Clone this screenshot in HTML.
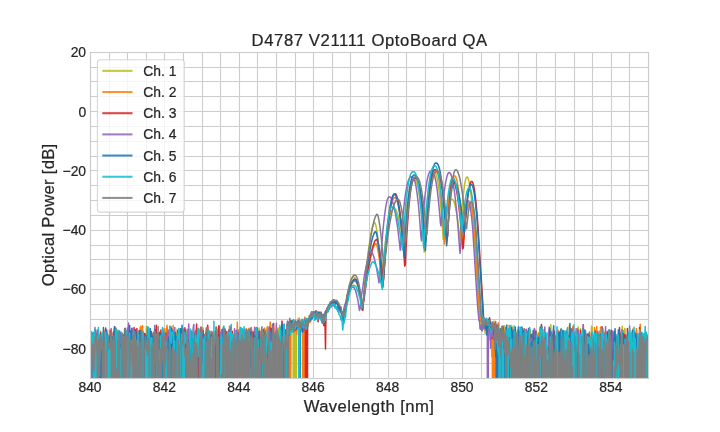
<!DOCTYPE html><html><head><meta charset="utf-8"><title>D4787 V21111 OptoBoard QA</title>
<style>html,body{margin:0;padding:0;background:#fff}svg{display:block}text{font-family:"Liberation Sans",Arial,sans-serif;fill:#262626;stroke:#262626;stroke-width:0.22px}</style></head><body>
<svg width="720" height="432" viewBox="0 0 720 432">
<rect width="720" height="432" fill="#fff"/>
<defs><clipPath id="ax"><rect x="90.0" y="51.84" width="558.0" height="326.15999999999997"/></clipPath></defs>
<path d="M90.5,52V379M109.5,52V379M127.5,52V379M146.5,52V379M164.5,52V379M183.5,52V379M202.5,52V379M220.5,52V379M239.5,52V379M257.5,52V379M276.5,52V379M295.5,52V379M313.5,52V379M332.5,52V379M350.5,52V379M369.5,52V379M388.5,52V379M406.5,52V379M425.5,52V379M443.5,52V379M462.5,52V379M481.5,52V379M499.5,52V379M518.5,52V379M536.5,52V379M555.5,52V379M574.5,52V379M592.5,52V379M611.5,52V379M629.5,52V379M648.5,52V379M90,378.5H649M90,363.5H649M90,348.5H649M90,334.5H649M90,319.5H649M90,304.5H649M90,289.5H649M90,274.5H649M90,259.5H649M90,245.5H649M90,230.5H649M90,215.5H649M90,200.5H649M90,185.5H649M90,170.5H649M90,156.5H649M90,141.5H649M90,126.5H649M90,111.5H649M90,96.5H649M90,81.5H649M90,67.5H649M90,52.5H649" stroke="#cccccc" stroke-width="1.1" fill="none"/>
<g clip-path="url(#ax)" fill="none" stroke-width="1.5" stroke-linejoin="round" stroke-linecap="butt">
<path d="M88.9,352.1 89.4,345 90.0,367 90.6,733.8 91.1,733.8 91.7,733.8 92.2,350.3 92.8,333.2 93.3,733.8 93.9,733.8 94.5,341.8 95.0,343.8 95.6,349 96.1,733.8 96.7,353 97.3,339 97.8,733.8 98.4,733.8 98.9,733.8 99.5,733.8 100.0,733.8 100.6,363.3 101.2,733.8 101.7,345.2 102.3,347.6 102.8,360 103.4,733.8 103.9,733.8 104.5,353.5 105.1,348.6 105.6,733.8 106.2,733.8 106.7,733.8 107.3,733.8 107.9,335.1 108.4,733.8 109.0,352.8 109.5,336.7 110.1,733.8 110.6,355.9 111.2,348.6 111.8,349.8 112.3,733.8 112.9,349.4 113.4,332.6 114.0,733.8 114.6,336.9 115.1,348.3 115.7,733.8 116.2,328.5 116.8,337.8 117.3,733.8 117.9,349.4 118.5,340.1 119.0,359.8 119.6,338.7 120.1,353.9 120.7,338.9 121.2,331.8 121.8,733.8 122.4,346.2 122.9,733.8 123.5,347.9 124.0,733.8 124.6,733.8 125.2,360.1 125.7,336.2 126.3,334 126.8,733.8 127.4,733.8 127.9,339 128.5,733.8 129.1,733.8 129.6,354.9 130.2,333 130.7,338.4 131.3,373.2 131.8,384 132.4,363.9 133.0,331 133.5,733.8 134.1,369.6 134.6,343.1 135.2,355.8 135.8,359.9 136.3,733.8 136.9,351.5 137.4,733.8 138.0,333.6 138.5,338.7 139.1,351.9 139.7,338.5 140.2,375.5 140.8,334.5 141.3,351.2 141.9,339.5 142.5,733.8 143.0,343 143.6,733.8 144.1,733.8 144.7,369.4 145.2,733.8 145.8,346.6 146.4,326.6 146.9,733.8 147.5,733.8 148.0,345.6 148.6,340.6 149.1,358.4 149.7,360.2 150.3,337.8 150.8,340.1 151.4,733.8 151.9,353.7 152.5,349.7 153.1,733.8 153.6,344.4 154.2,733.8 154.7,334.9 155.3,345.7 155.8,348.2 156.4,733.8 157.0,355.3 157.5,733.8 158.1,733.8 158.6,342.4 159.2,733.8 159.7,336 160.3,733.8 160.9,337 161.4,733.8 162.0,336.7 162.5,347 163.1,733.8 163.7,332.4 164.2,330.9 164.8,352.9 165.3,365.4 165.9,357.1 166.4,733.8 167.0,333.5 167.6,733.8 168.1,352.3 168.7,733.8 169.2,733.8 169.8,733.8 170.4,332.2 170.9,356.7 171.5,334.6 172.0,350 172.6,733.8 173.1,372.2 173.7,733.8 174.3,350.1 174.8,386.2 175.4,368.2 175.9,733.8 176.5,733.8 177.0,329.3 177.6,733.8 178.2,733.8 178.7,342.4 179.3,330.9 179.8,733.8 180.4,359.7 181.0,733.8 181.5,733.8 182.1,336.8 182.6,351 183.2,348.1 183.7,733.8 184.3,340.4 184.9,733.8 185.4,355.8 186.0,733.8 186.5,733.8 187.1,331.2 187.6,733.8 188.2,343 188.8,351.2 189.3,733.8 189.9,733.8 190.4,337.9 191.0,368.1 191.6,356.1 192.1,349.3 192.7,332.3 193.2,337.2 193.8,341.3 194.3,733.8 194.9,733.8 195.5,334.3 196.0,334.1 196.6,355.5 197.1,338.9 197.7,335.9 198.3,335.4 198.8,334.5 199.4,733.8 199.9,329.7 200.5,733.8 201.0,335 201.6,339.5 202.2,334.9 202.7,327.4 203.3,329.8 203.8,733.8 204.4,733.8 204.9,335.4 205.5,733.8 206.1,350.1 206.6,335.1 207.2,733.8 207.7,733.8 208.3,343.2 208.9,348.3 209.4,361.9 210.0,348.5 210.5,733.8 211.1,733.8 211.6,356.5 212.2,733.8 212.8,733.8 213.3,339 213.9,351.7 214.4,340.5 215.0,733.8 215.5,733.8 216.1,733.8 216.7,733.8 217.2,344.4 217.8,733.8 218.3,341.3 218.9,341.5 219.5,326.2 220.0,733.8 220.6,334.4 221.1,352.7 221.7,349.9 222.2,733.8 222.8,733.8 223.4,335.8 223.9,352.3 224.5,347 225.0,366 225.6,331.8 226.2,350 226.7,733.8 227.3,733.8 227.8,733.8 228.4,733.8 228.9,733.8 229.5,330.3 230.1,347.8 230.6,733.8 231.2,733.8 231.7,331.9 232.3,344.9 232.8,347.7 233.4,351 234.0,348 234.5,334.9 235.1,337.9 235.6,343.5 236.2,733.8 236.8,338.5 237.3,733.8 237.9,332.1 238.4,733.8 239.0,354.5 239.5,349.3 240.1,733.8 240.7,327.5 241.2,329.2 241.8,733.8 242.3,335.1 242.9,340.4 243.4,733.8 244.0,342.7 244.6,351.1 245.1,346.5 245.7,733.8 246.2,363.3 246.8,356.5 247.4,331.1 247.9,341 248.5,349 249.0,328.6 249.6,733.8 250.1,395.5 250.7,733.8 251.3,328.3 251.8,333 252.4,333.4 252.9,336.1 253.5,345.6 254.1,343.2 254.6,361.5 255.2,357.9 255.7,347 256.3,328.5 256.8,337.4 257.4,350.7 258.0,733.8 258.5,733.8 259.1,327.9 259.6,338.1 260.2,346.6 260.7,374.4 261.3,733.8 261.9,350.9 262.4,333.6 263.0,399.7 263.5,359.3 264.1,358.9 264.7,345.4 265.2,733.8 265.8,359.9 266.3,733.8 266.9,333.4 267.4,733.8 268.0,336.9 268.6,328.2 269.1,368.1 269.7,733.8 270.2,343.3 270.8,348.4 271.3,733.8 271.9,338.5 272.5,325.2 273.0,361.6 273.6,357.4 274.1,733.8 274.7,340.7 275.3,733.8 275.8,733.8 276.4,329.8 276.9,733.8 277.5,331.3 278.0,327.9 278.6,341.6 279.2,336.9 279.7,325.3 280.3,355.7 280.8,733.8 281.4,733.8 282.0,345.7 282.5,327.8 283.1,331.7 283.6,733.8 284.2,733.8 284.7,375.1 285.3,337.8 285.9,346.5 286.4,337 287.0,334.7 287.5,341.7 288.1,335.3 288.6,330.8 289.2,330.9 289.8,326.7 290.3,320.5 290.9,323.1 291.4,324.7 292.0,332 292.6,323.6 293.1,333.5 293.7,733.8 294.2,322.2 294.8,733.8 295.3,325.1 295.9,733.8 296.5,325.8 297.0,326.9 297.6,322.6 298.1,318.7 298.7,323.7 299.2,327.1 299.8,328.7 300.4,324.5 300.9,324.8 301.5,328.4 302.0,323.7 302.6,328 303.2,320.7 303.7,320.7 304.3,320.5 304.8,324.7 305.4,321.7 305.9,323.3 306.5,323.9 307.1,323.6 307.6,326.6 308.2,326.3 308.7,318.7 309.3,319.3 309.9,316.9 310.4,314 311.0,319.8 311.5,316.9 312.1,314.6 312.6,313.9 313.2,315.4 313.8,312.8 314.3,314.3 314.9,317.5 315.4,316.8 316.0,313.4 316.5,314 317.1,319.5 317.7,312.5 318.2,313.9 318.8,312.6 319.3,315.9 319.9,315.8 320.5,318.5 321.0,311.8 321.6,317.8 322.1,314.6 322.7,320.8 323.2,319.2 323.8,325.6 324.4,319.5 324.9,314.4 325.5,317.3 326.0,311.1 326.6,310.7 327.1,311.1 327.7,308.9 328.3,307.4 328.8,305.8 329.4,305.2 329.9,304.5 330.5,303.2 331.1,303.1 331.6,302.7 332.2,301.3 332.7,300.4 333.3,301.9 333.8,300.7 334.4,301.2 335.0,301.7 335.5,300.7 336.1,302.1 336.6,301.2 337.2,303.5 337.8,303.4 338.3,304.8 338.9,306.3 339.4,306.1 340.0,308.1 340.5,308.5 341.1,310.8 341.7,314.2 342.2,314.2 342.8,315.6 343.3,315.4 343.9,319.7 344.4,313 345.0,311.1 345.6,304.2 346.1,301.9 346.7,298.6 347.2,294.4 347.8,291.1 348.4,289.2 348.9,286.6 349.5,284.3 350.0,282.5 350.6,280.7 351.1,279.5 351.7,278.5 352.3,277.6 352.8,277.2 353.4,276.9 353.9,277.1 354.5,277.5 355.0,278.2 355.6,278.7 356.2,280.1 356.7,281.5 357.3,283.3 357.8,285.2 358.4,287.5 359.0,289.5 359.5,293.2 360.1,296.6 360.6,299.8 361.2,303.9 361.7,305.9 362.3,309.5 362.9,306.9 363.4,300.3 364.0,293.2 364.5,286.6 365.1,281.4 365.7,275.2 366.2,269.9 366.8,264.5 367.3,259.6 367.9,254.9 368.4,250.4 369.0,246.3 369.6,242.3 370.1,238.7 370.7,235.4 371.2,232.4 371.8,229.8 372.3,227.5 372.9,225.5 373.5,224 374.0,222.9 374.6,222.4 375.1,223.2 375.7,224.9 376.3,227.5 376.8,230.7 377.4,234.6 377.9,239.1 378.5,244.1 379.0,249.7 379.6,255.7 380.2,262.3 380.7,269.4 381.3,276.8 381.8,276.2 382.4,270.1 382.9,264.3 383.5,258.8 384.1,253.6 384.6,248.6 385.2,244 385.7,239.6 386.3,235.5 386.9,231.7 387.4,228.2 388.0,225 388.5,222 389.1,219.4 389.6,217 390.2,214.9 390.8,213.1 391.3,211.6 391.9,210.4 392.4,209.4 393.0,208.8 393.6,208.4 394.1,208.3 394.7,208.5 395.2,209 395.8,209.7 396.3,210.7 396.9,212 397.5,213.6 398.0,215.4 398.6,217.5 399.1,219.9 399.7,222.5 400.2,225.5 400.8,228.7 401.4,232.2 401.9,235.9 402.5,239.9 403.0,244.2 403.6,246.5 404.2,238.3 404.7,230.7 405.3,223.7 405.8,217.3 406.4,211.4 406.9,206.2 407.5,201.5 408.1,197.3 408.6,193.7 409.2,190.5 409.7,187.8 410.3,185.6 410.8,183.8 411.4,182.4 412.0,181.3 412.5,180.6 413.1,180.2 413.6,180 414.2,180 414.8,180.1 415.3,180.5 415.9,181.2 416.4,182.3 417.0,183.8 417.5,185.8 418.1,188.2 418.7,191.1 419.2,194.6 419.8,198.7 420.3,203.3 420.9,208.5 421.5,214.4 422.0,220.9 422.6,228 423.1,235.9 423.7,244.5 424.2,252.1 424.8,241.1 425.4,230.9 425.9,221.6 426.5,213.2 427.0,205.7 427.6,198.9 428.1,193 428.7,187.9 429.3,183.5 429.8,179.8 430.4,176.8 430.9,174.5 431.5,172.8 432.1,171.6 432.6,171 433.2,170.8 433.7,170.8 434.3,171.1 434.8,171.8 435.4,172.7 436.0,174.1 436.5,176 437.1,178.3 437.6,181 438.2,184.3 438.7,188.1 439.3,192.5 439.9,197.4 440.4,202.9 441.0,209 441.5,215.6 442.1,222.9 442.7,230.9 443.2,239.4 443.8,236.4 444.3,231.5 444.9,227 445.4,222.8 446.0,219 446.6,215.5 447.1,212.3 447.7,209.5 448.2,207 448.8,204.8 449.4,203.1 449.9,201.6 450.5,200.5 451.0,199.7 451.6,199.3 452.1,199.2 452.7,199.5 453.3,200.3 453.8,201.4 454.4,202.9 454.9,204.9 455.5,207.3 456.0,210.1 456.6,213.3 457.2,216.9 457.7,220.9 458.3,225.4 458.8,230.2 459.4,235.5 460.0,241.2 460.5,232.6 461.1,223.4 461.6,215.1 462.2,207.6 462.7,200.9 463.3,195.1 463.9,190 464.4,185.8 465.0,182.4 465.5,179.8 466.1,178.1 466.6,177.2 467.2,177 467.8,177.7 468.3,179 468.9,180.9 469.4,183.6 470.0,187 470.6,191.1 471.1,195.8 471.7,201.3 472.2,207.4 472.8,214.3 473.3,221.8 473.9,230.1 474.5,239 475.0,247.9 475.6,256.9 476.1,265.8 476.7,274.4 477.3,283.4 477.8,292.5 478.4,300.7 478.9,307.3 479.5,318.9 480.0,323.9 480.6,318.7 481.2,320.8 481.7,320.3 482.3,324.5 482.8,316.9 483.4,317.5 483.9,320.6 484.5,320.2 485.1,333.3 485.6,320.4 486.2,323.2 486.7,321 487.3,320.2 487.9,323.8 488.4,330.8 489.0,321.2 489.5,326.6 490.1,325.6 490.6,328.1 491.2,327.6 491.8,356.7 492.3,322.3 492.9,327 493.4,323.8 494.0,321.1 494.5,330.7 495.1,733.8 495.7,342.3 496.2,352.1 496.8,339.2 497.3,333.8 497.9,733.8 498.5,332.8 499.0,733.8 499.6,334.2 500.1,339.3 500.7,343.2 501.2,340.1 501.8,350.7 502.4,354.9 502.9,733.8 503.5,341.8 504.0,326.4 504.6,325.8 505.2,329.5 505.7,334.3 506.3,393.3 506.8,329.2 507.4,345.6 507.9,346.3 508.5,353.4 509.1,343.6 509.6,363.5 510.2,348.2 510.7,733.8 511.3,361.5 511.8,325.5 512.4,349 513.0,355.4 513.5,338.4 514.1,336.4 514.6,733.8 515.2,355.4 515.8,334.6 516.3,342.7 516.9,345.7 517.4,329.8 518.0,733.8 518.5,346.9 519.1,733.8 519.7,330.4 520.2,733.8 520.8,733.8 521.3,733.8 521.9,337.7 522.4,338.4 523.0,331.1 523.6,733.8 524.1,336.8 524.7,365.2 525.2,733.8 525.8,339.4 526.4,733.8 526.9,733.8 527.5,378.7 528.0,733.8 528.6,733.8 529.1,342 529.7,343 530.3,330 530.8,358.9 531.4,733.8 531.9,733.8 532.5,733.8 533.1,733.8 533.6,341.1 534.2,733.8 534.7,733.8 535.3,337.6 535.8,354.6 536.4,342.4 537.0,347.5 537.5,338.4 538.1,349.4 538.6,332.5 539.2,341.3 539.7,341.8 540.3,341.5 540.9,733.8 541.4,357.4 542.0,363.9 542.5,345.2 543.1,733.8 543.7,329.7 544.2,347.6 544.8,733.8 545.3,733.8 545.9,366.2 546.4,353.9 547.0,733.8 547.6,348 548.1,733.8 548.7,339.5 549.2,733.8 549.8,351.9 550.3,334.7 550.9,324.8 551.5,733.8 552.0,733.8 552.6,733.8 553.1,336.7 553.7,733.8 554.3,733.8 554.8,351.6 555.4,733.8 555.9,733.8 556.5,733.8 557.0,733.8 557.6,733.8 558.2,733.8 558.7,346.6 559.3,358.7 559.8,733.8 560.4,733.8 561.0,336.5 561.5,339.4 562.1,353.5 562.6,733.8 563.2,338.5 563.7,733.8 564.3,733.8 564.9,733.8 565.4,330.9 566.0,345 566.5,333.1 567.1,733.8 567.6,335.1 568.2,733.8 568.8,357.1 569.3,325.2 569.9,336.9 570.4,733.8 571.0,353.7 571.6,343 572.1,332.7 572.7,733.8 573.2,733.8 573.8,366.1 574.3,350.2 574.9,347.5 575.5,331.9 576.0,343.1 576.6,336.4 577.1,733.8 577.7,335.8 578.2,327.1 578.8,336.8 579.4,344.3 579.9,346.5 580.5,328.8 581.0,733.8 581.6,354.8 582.2,340.8 582.7,337.1 583.3,733.8 583.8,343.3 584.4,365.9 584.9,347.3 585.5,355.8 586.1,733.8 586.6,351.4 587.2,335.7 587.7,733.8 588.3,362.5 588.9,338.1 589.4,733.8 590.0,345.8 590.5,733.8 591.1,333.3 591.6,326 592.2,327.5 592.8,360.9 593.3,337.2 593.9,347.3 594.4,347.7 595.0,330.3 595.5,733.8 596.1,334 596.7,352.3 597.2,331.2 597.8,345.7 598.3,733.8 598.9,343.9 599.5,337.2 600.0,349.6 600.6,340.4 601.1,733.8 601.7,733.8 602.2,335.5 602.8,337.6 603.4,346.6 603.9,348.6 604.5,334.2 605.0,733.8 605.6,733.8 606.1,358.9 606.7,332.9 607.3,733.8 607.8,332.9 608.4,733.8 608.9,733.8 609.5,332.3 610.1,354.2 610.6,733.8 611.2,379.9 611.7,335.2 612.3,332.9 612.8,733.8 613.4,341.6 614.0,337.5 614.5,733.8 615.1,342.5 615.6,351.7 616.2,733.8 616.8,733.8 617.3,348.7 617.9,349.7 618.4,733.8 619.0,733.8 619.5,333.5 620.1,345.1 620.7,335.6 621.2,332.8 621.8,339 622.3,326.2 622.9,733.8 623.4,336.4 624.0,371.1 624.6,328.4 625.1,329.3 625.7,733.8 626.2,733.8 626.8,338.1 627.4,336.6 627.9,337.2 628.5,353.2 629.0,340.9 629.6,338.2 630.1,353.4 630.7,334.3 631.3,733.8 631.8,338.4 632.4,733.8 632.9,334.9 633.5,361.6 634.0,733.8 634.6,342.2 635.2,733.8 635.7,733.8 636.3,733.8 636.8,351.5 637.4,340.3 638.0,334.3 638.5,356.3 639.1,334.1 639.6,350.1 640.2,354.1 640.7,339.2 641.3,334 641.9,375.4 642.4,362.8 643.0,357.3 643.5,348.2 644.1,733.8 644.7,334.3 645.2,733.8 645.8,340.8 646.3,733.8 646.9,342.4 647.4,341.9 648.0,733.8 648.6,327.5 649.1,342.2" stroke="#bcbd22" stroke-opacity="1.0"/>
<path d="M88.9,330.3 89.4,336.4 90.0,733.8 90.6,392.2 91.1,342.6 91.7,350.3 92.2,350.6 92.8,368.3 93.3,733.8 93.9,362.7 94.5,733.8 95.0,343.6 95.6,733.8 96.1,733.8 96.7,362.2 97.3,345.3 97.8,733.8 98.4,733.8 98.9,733.8 99.5,733.8 100.0,733.8 100.6,331.3 101.2,733.8 101.7,339.5 102.3,733.8 102.8,344.7 103.4,372.5 103.9,353.9 104.5,340.4 105.1,330.1 105.6,346.7 106.2,348.3 106.7,733.8 107.3,340.2 107.9,364.1 108.4,337.3 109.0,353.2 109.5,330.1 110.1,733.8 110.6,369.1 111.2,336.7 111.8,378.6 112.3,733.8 112.9,365.7 113.4,733.8 114.0,348.3 114.6,326.4 115.1,334.2 115.7,733.8 116.2,733.8 116.8,733.8 117.3,335.4 117.9,733.8 118.5,733.8 119.0,336.5 119.6,336.7 120.1,386.6 120.7,733.8 121.2,733.8 121.8,733.8 122.4,733.8 122.9,337.9 123.5,733.8 124.0,341.3 124.6,329.1 125.2,333.8 125.7,733.8 126.3,336.5 126.8,333.9 127.4,733.8 127.9,733.8 128.5,355.5 129.1,733.8 129.6,331.5 130.2,733.8 130.7,733.8 131.3,365.7 131.8,362.1 132.4,346.8 133.0,344.6 133.5,361.1 134.1,333.9 134.6,733.8 135.2,351.2 135.8,733.8 136.3,347.5 136.9,345.5 137.4,733.8 138.0,733.8 138.5,337.1 139.1,343 139.7,733.8 140.2,327.8 140.8,326.4 141.3,733.8 141.9,343.8 142.5,325.5 143.0,337.1 143.6,345.4 144.1,360.5 144.7,733.8 145.2,360.7 145.8,733.8 146.4,337.4 146.9,419.9 147.5,733.8 148.0,733.8 148.6,352.6 149.1,733.8 149.7,358.6 150.3,334.4 150.8,342.5 151.4,340.4 151.9,342.7 152.5,349.1 153.1,355.8 153.6,369.7 154.2,337.1 154.7,733.8 155.3,331.8 155.8,349.7 156.4,733.8 157.0,733.8 157.5,733.8 158.1,346.4 158.6,733.8 159.2,333.3 159.7,733.8 160.3,733.8 160.9,733.8 161.4,733.8 162.0,352 162.5,334 163.1,338.2 163.7,733.8 164.2,733.8 164.8,328.8 165.3,343 165.9,350.4 166.4,333.9 167.0,325.2 167.6,331.9 168.1,346.7 168.7,342.3 169.2,338.5 169.8,733.8 170.4,733.8 170.9,348.9 171.5,733.8 172.0,352.6 172.6,347.6 173.1,325.6 173.7,733.8 174.3,355.1 174.8,357.2 175.4,340.8 175.9,333.8 176.5,733.8 177.0,733.8 177.6,733.8 178.2,733.8 178.7,339.3 179.3,348.9 179.8,733.8 180.4,384.8 181.0,349.3 181.5,339.7 182.1,733.8 182.6,362.9 183.2,733.8 183.7,733.8 184.3,329.3 184.9,733.8 185.4,374.1 186.0,344.5 186.5,385.5 187.1,733.8 187.6,352.2 188.2,350.3 188.8,353 189.3,733.8 189.9,356 190.4,733.8 191.0,733.8 191.6,344.2 192.1,337.7 192.7,334.9 193.2,733.8 193.8,334.6 194.3,332.3 194.9,332.6 195.5,330.6 196.0,355.8 196.6,357.3 197.1,335.5 197.7,733.8 198.3,344.5 198.8,733.8 199.4,382.7 199.9,733.8 200.5,733.8 201.0,350.5 201.6,334.8 202.2,333.8 202.7,352.7 203.3,358 203.8,733.8 204.4,340.8 204.9,362.2 205.5,337.9 206.1,328.1 206.6,350.8 207.2,733.8 207.7,733.8 208.3,733.8 208.9,733.8 209.4,331 210.0,343.9 210.5,733.8 211.1,337.1 211.6,331.3 212.2,379.2 212.8,733.8 213.3,373.4 213.9,342.6 214.4,337.2 215.0,331.8 215.5,331.6 216.1,331.8 216.7,330.4 217.2,336.9 217.8,733.8 218.3,354.6 218.9,342 219.5,390.2 220.0,334.1 220.6,379.1 221.1,733.8 221.7,329.7 222.2,336.8 222.8,343.7 223.4,333.9 223.9,332.7 224.5,341.4 225.0,733.8 225.6,733.8 226.2,733.8 226.7,733.8 227.3,344.1 227.8,331.5 228.4,733.8 228.9,733.8 229.5,326 230.1,733.8 230.6,733.8 231.2,343.2 231.7,339.9 232.3,733.8 232.8,335.1 233.4,733.8 234.0,733.8 234.5,344.4 235.1,335.3 235.6,733.8 236.2,341.3 236.8,352.5 237.3,322.2 237.9,733.8 238.4,329.8 239.0,350.8 239.5,353.9 240.1,335.7 240.7,333.9 241.2,330.6 241.8,341.3 242.3,733.8 242.9,733.8 243.4,338.4 244.0,337.4 244.6,329.6 245.1,339.7 245.7,332.2 246.2,328.7 246.8,344.4 247.4,733.8 247.9,733.8 248.5,733.8 249.0,328.2 249.6,733.8 250.1,330.7 250.7,337.2 251.3,327.3 251.8,332.6 252.4,352.6 252.9,357.7 253.5,346.2 254.1,344 254.6,733.8 255.2,349.8 255.7,327.9 256.3,733.8 256.8,342.2 257.4,733.8 258.0,343.7 258.5,334.1 259.1,350.6 259.6,334.7 260.2,733.8 260.7,331.5 261.3,733.8 261.9,336.5 262.4,343.7 263.0,733.8 263.5,733.8 264.1,342.9 264.7,328.1 265.2,341.5 265.8,342.1 266.3,733.8 266.9,328.9 267.4,326.4 268.0,347.5 268.6,358.7 269.1,733.8 269.7,333.4 270.2,322 270.8,335.1 271.3,330 271.9,337.3 272.5,733.8 273.0,329.4 273.6,733.8 274.1,357.9 274.7,341.4 275.3,333.3 275.8,339 276.4,339.5 276.9,733.8 277.5,733.8 278.0,346.2 278.6,733.8 279.2,733.8 279.7,733.8 280.3,733.8 280.8,733.8 281.4,733.8 282.0,733.8 282.5,342.1 283.1,338 283.6,324.5 284.2,733.8 284.7,733.8 285.3,331 285.9,346.9 286.4,347.9 287.0,324.3 287.5,342.5 288.1,733.8 288.6,414.2 289.2,327.8 289.8,327.5 290.3,733.8 290.9,328.6 291.4,323.2 292.0,323 292.6,327.1 293.1,322.9 293.7,323 294.2,332.3 294.8,325.7 295.3,323.3 295.9,326.6 296.5,334.3 297.0,325.4 297.6,322.3 298.1,320.2 298.7,334.4 299.2,318 299.8,328.5 300.4,321.6 300.9,320.9 301.5,321.4 302.0,323.6 302.6,328 303.2,733.8 303.7,325.9 304.3,733.8 304.8,316.9 305.4,321.2 305.9,318.6 306.5,325.6 307.1,319.1 307.6,318.7 308.2,318.3 308.7,320.5 309.3,322.5 309.9,317.8 310.4,322 311.0,319.7 311.5,315 312.1,317.1 312.6,315 313.2,314.9 313.8,311.4 314.3,312.4 314.9,314.9 315.4,312.6 316.0,316.5 316.5,315.6 317.1,313.2 317.7,317.8 318.2,315.6 318.8,318.1 319.3,314.9 319.9,312.2 320.5,317.5 321.0,316.1 321.6,319.7 322.1,321.5 322.7,322.8 323.2,316 323.8,314.1 324.4,317.3 324.9,318.5 325.5,313.6 326.0,313.9 326.6,310.6 327.1,309.9 327.7,308.7 328.3,307.1 328.8,307.3 329.4,306.1 329.9,306.4 330.5,304.4 331.1,304.5 331.6,302.9 332.2,303.1 332.7,301.9 333.3,301.5 333.8,302.8 334.4,302.3 335.0,302.6 335.5,301.6 336.1,301.3 336.6,302.3 337.2,303.9 337.8,303.1 338.3,306.7 338.9,304.7 339.4,307.9 340.0,312.2 340.5,306.5 341.1,308.9 341.7,314.4 342.2,313.8 342.8,316.3 343.3,317.4 343.9,322 344.4,315.5 345.0,310.2 345.6,307.4 346.1,303.6 346.7,301.7 347.2,297.7 347.8,296.9 348.4,294.1 348.9,292.7 349.5,290.5 350.0,288 350.6,287 351.1,285.3 351.7,284.3 352.3,283.4 352.8,282.5 353.4,282 353.9,281.5 354.5,281.2 355.0,281.2 355.6,281.7 356.2,282.3 356.7,283.1 357.3,284.4 357.8,285.8 358.4,287.2 359.0,289.8 359.5,292.6 360.1,295.5 360.6,299 361.2,302.7 361.7,306.7 362.3,310.2 362.9,307.1 363.4,301.7 364.0,298.1 364.5,293.7 365.1,289.9 365.7,285.2 366.2,281.7 366.8,277.9 367.3,274.5 367.9,271.1 368.4,268 369.0,264.9 369.6,262 370.1,259.4 370.7,256.8 371.2,254.5 371.8,252.3 372.3,250.4 372.9,248.7 373.5,247.2 374.0,245.9 374.6,244.8 375.1,244.1 375.7,243.7 376.3,244.2 376.8,245.5 377.4,247.5 377.9,250.1 378.5,253.2 379.0,256.8 379.6,260.8 380.2,265.4 380.7,270.3 381.3,275.5 381.8,281.2 382.4,287.8 382.9,286.9 383.5,278.4 384.1,271 384.6,263.4 385.2,256.3 385.7,249.6 386.3,243.3 386.9,237.5 387.4,232 388.0,226.9 388.5,222.2 389.1,217.9 389.6,214.1 390.2,210.6 390.8,207.6 391.3,204.9 391.9,202.7 392.4,200.8 393.0,199.4 393.6,198.4 394.1,197.7 394.7,197.5 395.2,197.7 395.8,198.2 396.3,199.1 396.9,200.4 397.5,202.1 398.0,204.1 398.6,206.5 399.1,209.3 399.7,212.4 400.2,215.9 400.8,219.8 401.4,224.1 401.9,228.7 402.5,233.7 403.0,239.1 403.6,244.9 404.2,251 404.7,251.3 405.3,242.2 405.8,233.7 406.4,226 406.9,218.9 407.5,212.5 408.1,206.7 408.6,201.5 409.2,196.9 409.7,192.9 410.3,189.5 410.8,186.6 411.4,184.1 412.0,182.2 412.5,180.7 413.1,179.6 413.6,178.9 414.2,178.5 414.8,178.3 415.3,178.3 415.9,178.5 416.4,178.9 417.0,179.7 417.5,180.9 418.1,182.4 418.7,184.5 419.2,187 419.8,190 420.3,193.5 420.9,197.6 421.5,202.3 422.0,207.6 422.6,213.5 423.1,220.1 423.7,227.3 424.2,235.2 424.8,243.7 425.4,241.5 425.9,233.4 426.5,225.8 427.0,218.8 427.6,212.3 428.1,206.4 428.7,201 429.3,196.1 429.8,191.7 430.4,187.8 430.9,184.3 431.5,181.4 432.1,178.8 432.6,176.7 433.2,175 433.7,173.7 434.3,172.7 434.8,172.1 435.4,171.8 436.0,171.7 436.5,171.8 437.1,172.4 437.6,173.5 438.2,175.3 438.7,177.7 439.3,180.9 439.9,184.8 440.4,189.6 441.0,195.3 441.5,201.8 442.1,209.2 442.7,217.6 443.2,226.9 443.8,237.2 444.3,244.1 444.9,236.9 445.4,230.2 446.0,223.8 446.6,217.8 447.1,212.3 447.7,207.1 448.2,202.3 448.8,197.9 449.4,194 449.9,190.4 450.5,187.2 451.0,184.4 451.6,182 452.1,180 452.7,178.3 453.3,177.1 453.8,176.3 454.4,175.9 454.9,175.9 455.5,176.4 456.0,177.6 456.6,179.4 457.2,181.9 457.7,185 458.3,188.7 458.8,193 459.4,198 460.0,203.5 460.5,209.7 461.1,216.6 461.6,224 462.2,232.1 462.7,240.8 463.3,241.4 463.9,235.3 464.4,229.7 465.0,224.6 465.5,220.1 466.1,216.1 466.6,212.6 467.2,209.7 467.8,207.3 468.3,205.4 468.9,204.1 469.4,203.3 470.0,203 470.6,203.4 471.1,204.7 471.7,206.7 472.2,209.6 472.8,213.4 473.3,217.9 473.9,223.3 474.5,229.5 475.0,238.3 475.6,247.3 476.1,256.2 476.7,265.1 477.3,274 477.8,283.2 478.4,291.3 478.9,300.9 479.5,310.3 480.0,316.8 480.6,319.2 481.2,321.3 481.7,319.2 482.3,322 482.8,318.7 483.4,318.6 483.9,322.9 484.5,318.1 485.1,321.9 485.6,322.2 486.2,326.4 486.7,323.6 487.3,320 487.9,328.4 488.4,320.3 489.0,321.3 489.5,322.3 490.1,340 490.6,325.5 491.2,323.2 491.8,331.3 492.3,327.1 492.9,733.8 493.4,325.7 494.0,335.2 494.5,325.9 495.1,733.8 495.7,327.9 496.2,335.2 496.8,328.2 497.3,348.5 497.9,343.3 498.5,322.7 499.0,351.9 499.6,349.8 500.1,341.7 500.7,403.6 501.2,328.9 501.8,326.2 502.4,359.9 502.9,733.8 503.5,329.9 504.0,330.6 504.6,332.9 505.2,330.6 505.7,733.8 506.3,347.2 506.8,733.8 507.4,733.8 507.9,332.7 508.5,733.8 509.1,325.3 509.6,344.3 510.2,733.8 510.7,334.9 511.3,327.9 511.8,338.6 512.4,733.8 513.0,340.4 513.5,330.7 514.1,405.5 514.6,733.8 515.2,333.6 515.8,345 516.3,733.8 516.9,370.2 517.4,733.8 518.0,342.5 518.5,346.3 519.1,332.8 519.7,337 520.2,733.8 520.8,341 521.3,335.2 521.9,340.4 522.4,334 523.0,733.8 523.6,733.8 524.1,335 524.7,733.8 525.2,733.8 525.8,334.1 526.4,733.8 526.9,367.2 527.5,733.8 528.0,733.8 528.6,733.8 529.1,377 529.7,342 530.3,733.8 530.8,336.9 531.4,733.8 531.9,733.8 532.5,337.8 533.1,353 533.6,733.8 534.2,328.4 534.7,733.8 535.3,344.4 535.8,345.3 536.4,331.2 537.0,733.8 537.5,334.4 538.1,733.8 538.6,333.4 539.2,733.8 539.7,380.1 540.3,328.1 540.9,343.1 541.4,347.5 542.0,326.3 542.5,342.3 543.1,733.8 543.7,337.2 544.2,733.8 544.8,333.4 545.3,332.7 545.9,733.8 546.4,733.8 547.0,345.9 547.6,350.2 548.1,733.8 548.7,339.3 549.2,733.8 549.8,733.8 550.3,733.8 550.9,365.4 551.5,343.3 552.0,733.8 552.6,339 553.1,358.3 553.7,733.8 554.3,733.8 554.8,733.8 555.4,342.4 555.9,733.8 556.5,348.7 557.0,334 557.6,334.2 558.2,330.2 558.7,368 559.3,733.8 559.8,334.3 560.4,343.3 561.0,333.4 561.5,350.3 562.1,332.8 562.6,336 563.2,337.4 563.7,340.2 564.3,341.8 564.9,344.7 565.4,344.9 566.0,334.6 566.5,733.8 567.1,329.1 567.6,354.6 568.2,334.7 568.8,354 569.3,363 569.9,327.4 570.4,369.8 571.0,733.8 571.6,733.8 572.1,370.9 572.7,326.8 573.2,345.3 573.8,335.1 574.3,733.8 574.9,342.5 575.5,338 576.0,328.7 576.6,733.8 577.1,338.8 577.7,343.4 578.2,733.8 578.8,351.3 579.4,364.5 579.9,733.8 580.5,338.9 581.0,339.7 581.6,733.8 582.2,733.8 582.7,330.7 583.3,344.1 583.8,334.4 584.4,331.2 584.9,733.8 585.5,336.4 586.1,362.5 586.6,352.8 587.2,353.8 587.7,350.7 588.3,333.5 588.9,347.2 589.4,356.9 590.0,365.8 590.5,342.7 591.1,733.8 591.6,733.8 592.2,352.5 592.8,733.8 593.3,355.2 593.9,733.8 594.4,327.6 595.0,331.8 595.5,341 596.1,352.5 596.7,326.6 597.2,343 597.8,353.8 598.3,343.4 598.9,343.3 599.5,331.2 600.0,351.3 600.6,327.1 601.1,733.8 601.7,337.7 602.2,733.8 602.8,328.6 603.4,373.2 603.9,352.7 604.5,335.2 605.0,332.4 605.6,733.8 606.1,376.5 606.7,733.8 607.3,346.9 607.8,354.4 608.4,377.2 608.9,733.8 609.5,393.7 610.1,733.8 610.6,339.8 611.2,330.5 611.7,733.8 612.3,355.1 612.8,733.8 613.4,340.3 614.0,733.8 614.5,356.5 615.1,733.8 615.6,337.7 616.2,347.8 616.8,357.3 617.3,342.2 617.9,363 618.4,733.8 619.0,338.9 619.5,343.7 620.1,356.9 620.7,334.7 621.2,332.7 621.8,733.8 622.3,733.8 622.9,330.3 623.4,331.2 624.0,733.8 624.6,733.8 625.1,733.8 625.7,733.8 626.2,733.8 626.8,349.7 627.4,733.8 627.9,733.8 628.5,335.3 629.0,733.8 629.6,353.2 630.1,338.5 630.7,336.4 631.3,374.5 631.8,349.3 632.4,733.8 632.9,329 633.5,338.2 634.0,733.8 634.6,350.5 635.2,337.5 635.7,340.5 636.3,328.5 636.8,331.5 637.4,733.8 638.0,353.9 638.5,733.8 639.1,344.4 639.6,346.5 640.2,324.3 640.7,347.8 641.3,733.8 641.9,733.8 642.4,347.5 643.0,733.8 643.5,733.8 644.1,382.2 644.7,342.7 645.2,357.5 645.8,733.8 646.3,336.6 646.9,733.8 647.4,733.8 648.0,733.8 648.6,733.8 649.1,338.2" stroke="#ff7f0e" stroke-opacity="1.0"/>
<path d="M88.9,733.8 89.4,354.7 90.0,338.9 90.6,388.9 91.1,346.1 91.7,733.8 92.2,333.4 92.8,335.1 93.3,346.1 93.9,733.8 94.5,733.8 95.0,336.1 95.6,330.6 96.1,344.9 96.7,333.8 97.3,733.8 97.8,360.2 98.4,351.9 98.9,342.7 99.5,733.8 100.0,336.4 100.6,333.1 101.2,733.8 101.7,733.8 102.3,343.8 102.8,733.8 103.4,733.8 103.9,337.6 104.5,347.6 105.1,733.8 105.6,328.1 106.2,348 106.7,733.8 107.3,348.9 107.9,733.8 108.4,733.8 109.0,343 109.5,733.8 110.1,733.8 110.6,330.6 111.2,336.9 111.8,337.5 112.3,340.8 112.9,341.5 113.4,331.9 114.0,352.3 114.6,329.4 115.1,733.8 115.7,364.7 116.2,733.8 116.8,376.8 117.3,340.9 117.9,331.8 118.5,733.8 119.0,351.4 119.6,380.9 120.1,733.8 120.7,733.8 121.2,349.7 121.8,733.8 122.4,348.3 122.9,350.8 123.5,733.8 124.0,733.8 124.6,733.8 125.2,329 125.7,733.8 126.3,330.9 126.8,339.6 127.4,382.4 127.9,733.8 128.5,334.8 129.1,329.8 129.6,733.8 130.2,369 130.7,334.7 131.3,343.4 131.8,328.2 132.4,733.8 133.0,340.2 133.5,733.8 134.1,327.6 134.6,733.8 135.2,733.8 135.8,356 136.3,356.7 136.9,328.6 137.4,375.3 138.0,351.6 138.5,339.4 139.1,330.5 139.7,353.3 140.2,334.6 140.8,340.4 141.3,368.4 141.9,348.8 142.5,350.2 143.0,733.8 143.6,333.1 144.1,733.8 144.7,333.4 145.2,335.3 145.8,354.4 146.4,733.8 146.9,361.7 147.5,340.9 148.0,337.4 148.6,344 149.1,334.8 149.7,733.8 150.3,344.9 150.8,733.8 151.4,337.1 151.9,346.7 152.5,733.8 153.1,333.3 153.6,337.9 154.2,733.8 154.7,349.6 155.3,733.8 155.8,334 156.4,325.3 157.0,733.8 157.5,348.5 158.1,363.4 158.6,342.6 159.2,338.3 159.7,332.2 160.3,733.8 160.9,330.1 161.4,733.8 162.0,343.9 162.5,333.1 163.1,337.4 163.7,733.8 164.2,733.8 164.8,733.8 165.3,352.3 165.9,333.1 166.4,733.8 167.0,340.6 167.6,338.6 168.1,339.3 168.7,340.5 169.2,330.3 169.8,340.2 170.4,335.7 170.9,339.1 171.5,328.5 172.0,733.8 172.6,331.9 173.1,364 173.7,366 174.3,733.8 174.8,733.8 175.4,390.2 175.9,733.8 176.5,340 177.0,733.8 177.6,330.7 178.2,343.6 178.7,362.7 179.3,733.8 179.8,733.8 180.4,733.8 181.0,733.8 181.5,350 182.1,357.8 182.6,733.8 183.2,364.3 183.7,733.8 184.3,345.8 184.9,327.8 185.4,338 186.0,369.8 186.5,733.8 187.1,733.8 187.6,733.8 188.2,336.8 188.8,733.8 189.3,348.2 189.9,733.8 190.4,347.4 191.0,330.7 191.6,733.8 192.1,374.6 192.7,733.8 193.2,335.1 193.8,733.8 194.3,733.8 194.9,733.8 195.5,733.8 196.0,339.9 196.6,324.1 197.1,733.8 197.7,334.2 198.3,343.6 198.8,733.8 199.4,365 199.9,361.1 200.5,733.8 201.0,327.1 201.6,733.8 202.2,341.2 202.7,342 203.3,733.8 203.8,345.7 204.4,334.8 204.9,345.6 205.5,340.5 206.1,336.8 206.6,733.8 207.2,329.8 207.7,325.2 208.3,333.7 208.9,333.4 209.4,733.8 210.0,354.2 210.5,733.8 211.1,733.8 211.6,333.8 212.2,733.8 212.8,354.6 213.3,733.8 213.9,356.1 214.4,346.9 215.0,733.8 215.5,733.8 216.1,327.1 216.7,733.8 217.2,733.8 217.8,733.8 218.3,331.6 218.9,325.8 219.5,341.7 220.0,733.8 220.6,733.8 221.1,332.7 221.7,733.8 222.2,329.6 222.8,329.9 223.4,347.3 223.9,337 224.5,335.7 225.0,328.9 225.6,733.8 226.2,331.6 226.7,385.1 227.3,733.8 227.8,346.3 228.4,359.1 228.9,733.8 229.5,733.8 230.1,733.8 230.6,329.5 231.2,326.3 231.7,336.8 232.3,331.4 232.8,733.8 233.4,351.9 234.0,342.3 234.5,733.8 235.1,733.8 235.6,346.3 236.2,369.9 236.8,733.8 237.3,340.4 237.9,362.9 238.4,332.7 239.0,349.2 239.5,366.9 240.1,345.4 240.7,356.2 241.2,733.8 241.8,733.8 242.3,335.4 242.9,336.6 243.4,330.4 244.0,733.8 244.6,401.1 245.1,733.8 245.7,344.3 246.2,733.8 246.8,733.8 247.4,334.9 247.9,344.1 248.5,733.8 249.0,329.9 249.6,332.7 250.1,733.8 250.7,334.3 251.3,733.8 251.8,331.5 252.4,358.9 252.9,733.8 253.5,383.5 254.1,733.8 254.6,343.7 255.2,344 255.7,347.6 256.3,733.8 256.8,733.8 257.4,346 258.0,733.8 258.5,342.5 259.1,331.3 259.6,341.9 260.2,395.3 260.7,356.3 261.3,353.8 261.9,733.8 262.4,733.8 263.0,733.8 263.5,330.8 264.1,349 264.7,332.8 265.2,361.1 265.8,346.3 266.3,355.6 266.9,338.6 267.4,334 268.0,342.4 268.6,733.8 269.1,733.8 269.7,327.3 270.2,363.9 270.8,365.1 271.3,328.5 271.9,331.4 272.5,337.4 273.0,420.3 273.6,323.5 274.1,339.5 274.7,337.2 275.3,355.3 275.8,733.8 276.4,733.8 276.9,339.1 277.5,339.3 278.0,359.3 278.6,733.8 279.2,733.8 279.7,367.2 280.3,733.8 280.8,332.7 281.4,330.3 282.0,321 282.5,332.5 283.1,733.8 283.6,733.8 284.2,733.8 284.7,733.8 285.3,346 285.9,329.5 286.4,331.7 287.0,330.8 287.5,332.8 288.1,327.6 288.6,322 289.2,335.2 289.8,328 290.3,330.6 290.9,320.4 291.4,321.2 292.0,322.6 292.6,329.5 293.1,324.2 293.7,325.5 294.2,324.4 294.8,325.3 295.3,323 295.9,325.9 296.5,322 297.0,323.7 297.6,325.4 298.1,324.8 298.7,325.9 299.2,322 299.8,325.2 300.4,323.4 300.9,325.5 301.5,330 302.0,321.5 302.6,327.6 303.2,321.8 303.7,322.4 304.3,329.5 304.8,326.3 305.4,324.6 305.9,733.8 306.5,326.6 307.1,733.8 307.6,323.1 308.2,320.9 308.7,321.5 309.3,318 309.9,319.3 310.4,316 311.0,314.3 311.5,315.1 312.1,315.9 312.6,317 313.2,314.3 313.8,314 314.3,315.3 314.9,316.4 315.4,313.8 316.0,310.7 316.5,315.5 317.1,314.3 317.7,314.3 318.2,321.7 318.8,314.8 319.3,316.7 319.9,312.6 320.5,316.4 321.0,318.5 321.6,317.9 322.1,317.7 322.7,320.5 323.2,319.8 323.8,325.5 324.4,320.1 324.9,315.7 325.5,348.9 326.0,312.7 326.6,311.9 327.1,309.2 327.7,308.1 328.3,306.3 328.8,305.8 329.4,306 329.9,304.7 330.5,303.9 331.1,303.2 331.6,302.7 332.2,303 332.7,303.7 333.3,302.3 333.8,303.3 334.4,301.7 335.0,301.9 335.5,303.4 336.1,302 336.6,302.3 337.2,303.5 337.8,302.9 338.3,303.5 338.9,307.4 339.4,306.1 340.0,307.8 340.5,309 341.1,309.7 341.7,313.7 342.2,315.2 342.8,317.6 343.3,319.5 343.9,319.7 344.4,320.5 345.0,314.8 345.6,308.5 346.1,305.9 346.7,302.2 347.2,300.6 347.8,297 348.4,294.2 348.9,291.5 349.5,289.4 350.0,287 350.6,285.5 351.1,283.9 351.7,282.6 352.3,281.3 352.8,280.6 353.4,279.7 353.9,279.4 354.5,279.2 355.0,279.2 355.6,279.4 356.2,280 356.7,281 357.3,282.4 357.8,283.9 358.4,286.1 359.0,288.1 359.5,291.1 360.1,294.9 360.6,296.7 361.2,300.9 361.7,306 362.3,309.3 362.9,310.3 363.4,302.7 364.0,299.6 364.5,296.1 365.1,290.9 365.7,286.9 366.2,282.4 366.8,278.9 367.3,275.2 367.9,271.4 368.4,267.9 369.0,264.6 369.6,261.6 370.1,258.5 370.7,255.7 371.2,253.2 371.8,250.7 372.3,248.5 372.9,246.5 373.5,244.7 374.0,243.1 374.6,241.8 375.1,240.7 375.7,240 376.3,239.5 376.8,239.8 377.4,241 377.9,242.7 378.5,244.9 379.0,247.6 379.6,250.7 380.2,254.3 380.7,258.2 381.3,262.5 381.8,267.1 382.4,272.1 382.9,277.3 383.5,280.4 384.1,272.1 384.6,264.3 385.2,257 385.7,250 386.3,243.4 386.9,237.2 387.4,231.5 388.0,226.1 388.5,221.2 389.1,216.6 389.6,212.5 390.2,208.8 390.8,205.5 391.3,202.6 391.9,200.1 392.4,198 393.0,196.3 393.6,195.1 394.1,194.2 394.7,193.8 395.2,193.7 395.8,194.2 396.3,195.1 396.9,196.5 397.5,198.3 398.0,200.7 398.6,203.5 399.1,206.8 399.7,210.6 400.2,214.9 400.8,219.6 401.4,224.8 401.9,230.5 402.5,236.7 403.0,243.3 403.6,250.4 404.2,258.1 404.7,266.1 405.3,264.7 405.8,253.2 406.4,242.7 406.9,233.2 407.5,224.5 408.1,216.7 408.6,209.7 409.2,203.5 409.7,198.1 410.3,193.4 410.8,189.5 411.4,186.2 412.0,183.6 412.5,181.5 413.1,180.1 413.6,179.1 414.2,178.5 414.8,178.3 415.3,178.3 415.9,178.5 416.4,178.9 417.0,179.5 417.5,180.5 418.1,181.9 418.7,183.6 419.2,185.8 419.8,188.4 420.3,191.4 420.9,195 421.5,199 422.0,203.6 422.6,208.7 423.1,214.4 423.7,220.6 424.2,227.4 424.8,234.8 425.4,242.9 425.9,237.6 426.5,228.4 427.0,219.9 427.6,212.2 428.1,205.2 428.7,198.9 429.3,193.3 429.8,188.3 430.4,184 430.9,180.4 431.5,177.3 432.1,174.8 432.6,172.8 433.2,171.4 433.7,170.4 434.3,169.9 434.8,169.7 435.4,169.7 436.0,169.9 436.5,170.3 437.1,170.8 437.6,171.7 438.2,172.8 438.7,174.1 439.3,175.8 439.9,177.8 440.4,180.1 441.0,182.7 441.5,185.7 442.1,189 442.7,192.6 443.2,196.7 443.8,201.1 444.3,205.8 444.9,211 445.4,216.6 446.0,222.5 446.6,228.9 447.1,235.6 447.7,236.3 448.2,224 448.8,213.2 449.4,204 449.9,196.2 450.5,190 451.0,185.3 451.6,182 452.1,180.3 452.7,180 453.3,180.4 453.8,181.1 454.4,182.3 454.9,183.9 455.5,185.9 456.0,188.3 456.6,191.1 457.2,194.3 457.7,197.9 458.3,202 458.8,206.4 459.4,211.3 460.0,216.5 460.5,222.2 461.1,228.3 461.6,234.8 462.2,241.7 462.7,249 463.3,247.6 463.9,239.1 464.4,231.2 465.0,223.8 465.5,217.1 466.1,210.9 466.6,205.3 467.2,200.3 467.8,195.9 468.3,192 468.9,188.8 469.4,186.1 470.0,184 470.6,182.5 471.1,181.6 471.7,181.3 472.2,181.6 472.8,182.7 473.3,184.4 473.9,186.9 474.5,190.1 475.0,194 475.6,198.6 476.1,204 476.7,210 477.3,216.8 477.8,224.3 478.4,232.7 478.9,241.6 479.5,250.5 480.0,259.5 480.6,268.3 481.2,277.3 481.7,285.7 482.3,295.5 482.8,303.3 483.4,314.5 483.9,325.7 484.5,321.9 485.1,320.3 485.6,328.2 486.2,318.8 486.7,325.8 487.3,322 487.9,321.2 488.4,320.5 489.0,331.5 489.5,317.7 490.1,321.4 490.6,326.2 491.2,330.8 491.8,338.6 492.3,336.7 492.9,325 493.4,330.6 494.0,339.3 494.5,334.1 495.1,323 495.7,334.4 496.2,338.1 496.8,325.1 497.3,330.4 497.9,334.2 498.5,343.3 499.0,733.8 499.6,392.2 500.1,344.5 500.7,340.9 501.2,334.7 501.8,333.4 502.4,337 502.9,337.5 503.5,733.8 504.0,733.8 504.6,355.6 505.2,733.8 505.7,370.7 506.3,349.5 506.8,733.8 507.4,733.8 507.9,346.6 508.5,342.7 509.1,733.8 509.6,337.7 510.2,351.9 510.7,733.8 511.3,345.5 511.8,327.4 512.4,733.8 513.0,332.1 513.5,330.6 514.1,329.9 514.6,733.8 515.2,327 515.8,345.4 516.3,358.1 516.9,357.1 517.4,338 518.0,347.5 518.5,355.2 519.1,331.8 519.7,733.8 520.2,733.8 520.8,336.1 521.3,337.1 521.9,333.4 522.4,733.8 523.0,333.5 523.6,340.1 524.1,328.8 524.7,733.8 525.2,344.6 525.8,363.9 526.4,733.8 526.9,733.8 527.5,333.3 528.0,733.8 528.6,733.8 529.1,335.7 529.7,334.5 530.3,334.5 530.8,733.8 531.4,352.3 531.9,334.2 532.5,733.8 533.1,733.8 533.6,336.1 534.2,330.1 534.7,733.8 535.3,733.8 535.8,733.8 536.4,733.8 537.0,355.9 537.5,338.6 538.1,356.3 538.6,733.8 539.2,346.4 539.7,733.8 540.3,352.2 540.9,733.8 541.4,324.4 542.0,336.3 542.5,733.8 543.1,733.8 543.7,733.8 544.2,733.8 544.8,733.8 545.3,733.8 545.9,335.6 546.4,733.8 547.0,733.8 547.6,733.8 548.1,733.8 548.7,353 549.2,360.5 549.8,333.3 550.3,733.8 550.9,334 551.5,344.3 552.0,350.8 552.6,733.8 553.1,733.8 553.7,337.2 554.3,331.3 554.8,345.3 555.4,336.9 555.9,733.8 556.5,384.5 557.0,733.8 557.6,334.8 558.2,342.7 558.7,362 559.3,372.8 559.8,339.4 560.4,343 561.0,733.8 561.5,329.2 562.1,344.3 562.6,350.3 563.2,330.7 563.7,334.3 564.3,353.9 564.9,339.7 565.4,733.8 566.0,733.8 566.5,733.8 567.1,332.6 567.6,733.8 568.2,337.9 568.8,733.8 569.3,733.8 569.9,359.3 570.4,344.1 571.0,338.7 571.6,328.9 572.1,342.4 572.7,335.7 573.2,733.8 573.8,337.5 574.3,346.5 574.9,733.8 575.5,354.2 576.0,352.8 576.6,345.6 577.1,341.7 577.7,733.8 578.2,733.8 578.8,337.1 579.4,733.8 579.9,733.8 580.5,330.2 581.0,733.8 581.6,733.8 582.2,337.8 582.7,733.8 583.3,324.7 583.8,733.8 584.4,331 584.9,330.2 585.5,335.3 586.1,361.1 586.6,342.4 587.2,733.8 587.7,336.4 588.3,733.8 588.9,365.5 589.4,334.6 590.0,733.8 590.5,381.7 591.1,346.2 591.6,733.8 592.2,333.1 592.8,342.7 593.3,733.8 593.9,352.3 594.4,733.8 595.0,733.8 595.5,348.4 596.1,733.8 596.7,334.9 597.2,733.8 597.8,334.7 598.3,352.2 598.9,335.9 599.5,733.8 600.0,733.8 600.6,733.8 601.1,339.1 601.7,335.1 602.2,327 602.8,332.1 603.4,344.4 603.9,360.3 604.5,341.9 605.0,351.6 605.6,330.8 606.1,335.1 606.7,733.8 607.3,733.8 607.8,331.5 608.4,343.3 608.9,361.8 609.5,332.9 610.1,395.3 610.6,366.1 611.2,733.8 611.7,733.8 612.3,335.8 612.8,733.8 613.4,733.8 614.0,733.8 614.5,337.3 615.1,353.1 615.6,350.2 616.2,733.8 616.8,353.8 617.3,733.8 617.9,343.3 618.4,342.3 619.0,351.2 619.5,327.4 620.1,339.8 620.7,338.9 621.2,346.7 621.8,359.1 622.3,334.8 622.9,333.6 623.4,733.8 624.0,334 624.6,340 625.1,334.9 625.7,340.7 626.2,733.8 626.8,733.8 627.4,328.6 627.9,344.4 628.5,733.8 629.0,342.6 629.6,381 630.1,733.8 630.7,733.8 631.3,733.8 631.8,344 632.4,352.3 632.9,363.2 633.5,343.7 634.0,338.8 634.6,733.8 635.2,368.7 635.7,733.8 636.3,733.8 636.8,733.8 637.4,355.4 638.0,364.8 638.5,733.8 639.1,733.8 639.6,327.5 640.2,733.8 640.7,733.8 641.3,343.9 641.9,338.9 642.4,340.7 643.0,733.8 643.5,334.5 644.1,733.8 644.7,733.8 645.2,733.8 645.8,354.7 646.3,337.5 646.9,338.6 647.4,351.4 648.0,335.2 648.6,348.3 649.1,335.5" stroke="#d62728" stroke-opacity="1.0"/>
<path d="M88.9,733.8 89.4,733.8 90.0,338.3 90.6,733.8 91.1,370.2 91.7,355.7 92.2,733.8 92.8,733.8 93.3,332.8 93.9,733.8 94.5,337 95.0,327.5 95.6,351.3 96.1,352.6 96.7,338.7 97.3,329.9 97.8,733.8 98.4,349.4 98.9,360 99.5,340.7 100.0,347.6 100.6,339.4 101.2,733.8 101.7,350.4 102.3,733.8 102.8,733.8 103.4,357.5 103.9,357.5 104.5,733.8 105.1,331.3 105.6,357.1 106.2,733.8 106.7,334.8 107.3,733.8 107.9,341.2 108.4,352.3 109.0,345.5 109.5,347.2 110.1,733.8 110.6,350.5 111.2,328.5 111.8,733.8 112.3,349.7 112.9,342.2 113.4,733.8 114.0,733.8 114.6,327.7 115.1,385.6 115.7,328.1 116.2,340.7 116.8,349.3 117.3,341.5 117.9,339.3 118.5,333.9 119.0,342 119.6,347.6 120.1,346.8 120.7,332.5 121.2,337.2 121.8,733.8 122.4,733.8 122.9,343.7 123.5,733.8 124.0,387.9 124.6,733.8 125.2,365.1 125.7,342.1 126.3,335.3 126.8,351.1 127.4,327.9 127.9,354.1 128.5,323.1 129.1,335.2 129.6,340.9 130.2,733.8 130.7,733.8 131.3,357.6 131.8,346.5 132.4,328.6 133.0,733.8 133.5,328.7 134.1,364 134.6,337.9 135.2,733.8 135.8,347.3 136.3,376.4 136.9,338.3 137.4,348.5 138.0,733.8 138.5,335.5 139.1,338.2 139.7,339.3 140.2,334.9 140.8,334.1 141.3,351.8 141.9,733.8 142.5,733.8 143.0,332 143.6,337.9 144.1,348.1 144.7,733.8 145.2,350 145.8,350.2 146.4,374.7 146.9,733.8 147.5,327 148.0,345.1 148.6,733.8 149.1,733.8 149.7,733.8 150.3,337.6 150.8,337.2 151.4,361 151.9,349.3 152.5,369.4 153.1,733.8 153.6,332.2 154.2,342.3 154.7,325.4 155.3,733.8 155.8,356.2 156.4,335.7 157.0,363 157.5,733.8 158.1,733.8 158.6,347.8 159.2,342.7 159.7,354.2 160.3,334.5 160.9,334.6 161.4,343 162.0,349.8 162.5,363.5 163.1,339.5 163.7,335.2 164.2,348.8 164.8,340.9 165.3,372 165.9,733.8 166.4,733.8 167.0,336.8 167.6,340.9 168.1,329.9 168.7,348.8 169.2,335.7 169.8,331.7 170.4,334.4 170.9,733.8 171.5,358.4 172.0,346.8 172.6,733.8 173.1,340.3 173.7,334 174.3,733.8 174.8,327.4 175.4,367.1 175.9,359.5 176.5,362 177.0,733.8 177.6,341.1 178.2,349.7 178.7,329.2 179.3,338.4 179.8,339.3 180.4,360.6 181.0,733.8 181.5,353.5 182.1,733.8 182.6,334.5 183.2,351.2 183.7,329 184.3,336.7 184.9,335.6 185.4,344.3 186.0,344.7 186.5,337.7 187.1,334.7 187.6,733.8 188.2,339.8 188.8,324 189.3,353.3 189.9,363.2 190.4,733.8 191.0,733.8 191.6,332.3 192.1,348.2 192.7,342.8 193.2,327.8 193.8,324.4 194.3,733.8 194.9,333.3 195.5,337.8 196.0,341 196.6,339.8 197.1,350.6 197.7,329.2 198.3,337.9 198.8,341.8 199.4,331.6 199.9,334.7 200.5,339.9 201.0,342.1 201.6,328.1 202.2,339.2 202.7,352.9 203.3,733.8 203.8,374.4 204.4,733.8 204.9,346.6 205.5,343.3 206.1,733.8 206.6,349 207.2,337.2 207.7,345.1 208.3,733.8 208.9,331.2 209.4,733.8 210.0,733.8 210.5,733.8 211.1,350 211.6,333.6 212.2,332 212.8,344.1 213.3,733.8 213.9,733.8 214.4,733.8 215.0,357 215.5,733.8 216.1,346.3 216.7,337.1 217.2,355.4 217.8,339.6 218.3,733.8 218.9,733.8 219.5,733.8 220.0,331.9 220.6,333 221.1,733.8 221.7,331.5 222.2,370.8 222.8,329.2 223.4,339.2 223.9,733.8 224.5,335.2 225.0,733.8 225.6,733.8 226.2,733.8 226.7,342.9 227.3,351.1 227.8,352 228.4,733.8 228.9,329.6 229.5,733.8 230.1,733.8 230.6,331 231.2,329.7 231.7,341.3 232.3,733.8 232.8,733.8 233.4,337.2 234.0,348.6 234.5,328.7 235.1,733.8 235.6,336.3 236.2,733.8 236.8,330.3 237.3,351.7 237.9,332.6 238.4,733.8 239.0,733.8 239.5,733.8 240.1,733.8 240.7,733.8 241.2,331.1 241.8,330.1 242.3,342.3 242.9,733.8 243.4,353.5 244.0,733.8 244.6,329.2 245.1,341.4 245.7,338.6 246.2,439.2 246.8,733.8 247.4,733.8 247.9,733.8 248.5,340.4 249.0,346 249.6,733.8 250.1,394.6 250.7,328.3 251.3,733.8 251.8,733.8 252.4,359.6 252.9,733.8 253.5,733.8 254.1,337.8 254.6,327.2 255.2,733.8 255.7,349.3 256.3,347.4 256.8,351.7 257.4,356.8 258.0,373.1 258.5,332.5 259.1,733.8 259.6,353.5 260.2,348.6 260.7,345.5 261.3,355.7 261.9,332.4 262.4,348.8 263.0,343.9 263.5,350.3 264.1,733.8 264.7,733.8 265.2,733.8 265.8,343.4 266.3,733.8 266.9,733.8 267.4,342.4 268.0,337.6 268.6,733.8 269.1,327.1 269.7,347.4 270.2,352.3 270.8,331.6 271.3,346.3 271.9,733.8 272.5,324.3 273.0,733.8 273.6,351.9 274.1,333.6 274.7,733.8 275.3,352 275.8,339.5 276.4,323.2 276.9,733.8 277.5,349.6 278.0,335.6 278.6,345.5 279.2,733.8 279.7,338.8 280.3,344.5 280.8,338 281.4,330.5 282.0,331.4 282.5,338 283.1,339.2 283.6,733.8 284.2,347.6 284.7,339 285.3,354.3 285.9,338.8 286.4,733.8 287.0,324.6 287.5,321.1 288.1,337.5 288.6,327.6 289.2,330.2 289.8,322.2 290.3,323.6 290.9,324.6 291.4,325.6 292.0,324.4 292.6,328.6 293.1,322.7 293.7,327.3 294.2,323 294.8,324.2 295.3,321.5 295.9,324.6 296.5,321.6 297.0,327.8 297.6,322.6 298.1,325.2 298.7,323.8 299.2,324.1 299.8,321.6 300.4,333 300.9,323.3 301.5,330 302.0,320.8 302.6,332 303.2,327.2 303.7,329.9 304.3,319.3 304.8,327.7 305.4,322.8 305.9,324.5 306.5,329.1 307.1,323.6 307.6,320.7 308.2,322.4 308.7,318.4 309.3,319.8 309.9,317.4 310.4,316.8 311.0,314.8 311.5,311.8 312.1,314.2 312.6,314.3 313.2,315.9 313.8,316.3 314.3,312.1 314.9,317.2 315.4,316.8 316.0,315.1 316.5,315.8 317.1,311.5 317.7,321 318.2,314.3 318.8,313.7 319.3,317.6 319.9,316.6 320.5,314.9 321.0,313.3 321.6,319.8 322.1,323 322.7,316.5 323.2,315.8 323.8,318.4 324.4,322.1 324.9,312.1 325.5,313.7 326.0,310.4 326.6,311.1 327.1,310.5 327.7,309.7 328.3,306.6 328.8,306 329.4,309.4 329.9,307.4 330.5,304.3 331.1,306 331.6,306.7 332.2,305.2 332.7,305.3 333.3,305.4 333.8,305.9 334.4,305.9 335.0,306.4 335.5,305.9 336.1,307.6 336.6,307.5 337.2,308 337.8,307 338.3,308.7 338.9,310.2 339.4,310.1 340.0,311.2 340.5,311.1 341.1,313.1 341.7,311.9 342.2,313.7 342.8,315.6 343.3,313.1 343.9,308.4 344.4,306.2 345.0,304.3 345.6,302.9 346.1,300.7 346.7,297.3 347.2,295.2 347.8,293.5 348.4,292.8 348.9,290.7 349.5,290 350.0,288.7 350.6,287.9 351.1,287.6 351.7,287.1 352.3,287.2 352.8,286.9 353.4,287.4 353.9,287.4 354.5,288.4 355.0,289.3 355.6,291 356.2,293.2 356.7,295 357.3,297.8 357.8,300 358.4,303.2 359.0,308 359.5,310.6 360.1,308.6 360.6,304.2 361.2,298.8 361.7,294.1 362.3,290.6 362.9,286.5 363.4,282.8 364.0,278.7 364.5,275.2 365.1,272 365.7,268.7 366.2,265.8 366.8,263.2 367.3,260.7 367.9,258.5 368.4,256.5 369.0,254.9 369.6,253.5 370.1,252.5 370.7,251.8 371.2,251.8 371.8,252.3 372.3,253.2 372.9,254.4 373.5,255.9 374.0,257.6 374.6,259.6 375.1,261.7 375.7,264.2 376.3,266.9 376.8,269.7 377.4,272.8 377.9,275.8 378.5,279.2 379.0,282.8 379.6,277.2 380.2,268.1 380.7,259.5 381.3,251.5 381.8,244.1 382.4,237.2 382.9,230.8 383.5,225 384.1,219.7 384.6,215 385.2,210.8 385.7,207.2 386.3,204.1 386.9,201.5 387.4,199.5 388.0,198 388.5,197.1 389.1,196.7 389.6,196.8 390.2,197.1 390.8,197.8 391.3,198.7 391.9,199.8 392.4,201.3 393.0,203 393.6,205 394.1,207.3 394.7,209.8 395.2,212.6 395.8,215.7 396.3,219.1 396.9,222.7 397.5,226.6 398.0,230.8 398.6,235.3 399.1,240 399.7,245 400.2,250.3 400.8,243.1 401.4,235.3 401.9,228 402.5,221.2 403.0,215 403.6,209.4 404.2,204.2 404.7,199.6 405.3,195.4 405.8,191.8 406.4,188.6 406.9,185.8 407.5,183.4 408.1,181.5 408.6,179.9 409.2,178.7 409.7,177.8 410.3,177.2 410.8,176.8 411.4,176.7 412.0,176.7 412.5,176.9 413.1,177.3 413.6,178.1 414.2,179.3 414.8,181 415.3,183.1 415.9,185.7 416.4,188.9 417.0,192.6 417.5,197 418.1,201.9 418.7,207.5 419.2,213.8 419.8,220.7 420.3,228.4 420.9,236.7 421.5,240.8 422.0,232 422.6,223.9 423.1,216.4 423.7,209.6 424.2,203.3 424.8,197.7 425.4,192.7 425.9,188.3 426.5,184.4 427.0,181 427.6,178.2 428.1,175.9 428.7,174.1 429.3,172.7 429.8,171.7 430.4,171.1 430.9,170.8 431.5,170.8 432.1,171 432.6,171.4 433.2,172.2 433.7,173.3 434.3,174.8 434.8,176.8 435.4,179.1 436.0,182 436.5,185.3 437.1,189.1 437.6,193.4 438.2,198.3 438.7,203.7 439.3,209.6 439.9,216.1 440.4,223.2 441.0,225.9 441.5,218.9 442.1,212.4 442.7,206.4 443.2,200.8 443.8,195.8 444.3,191.3 444.9,187.2 445.4,183.6 446.0,180.6 446.6,178 447.1,175.9 447.7,174.3 448.2,173.2 448.8,172.6 449.4,172.5 449.9,172.9 450.5,173.6 451.0,174.8 451.6,176.5 452.1,178.6 452.7,181.1 453.3,184 453.8,187.4 454.4,191.3 454.9,195.5 455.5,200.2 456.0,205.3 456.6,210.9 457.2,216.9 457.7,223.4 458.3,230.3 458.8,237.6 459.4,245.3 460.0,253.5 460.5,247.6 461.1,240.9 461.6,234.7 462.2,229 462.7,223.8 463.3,219.2 463.9,215.1 464.4,211.5 465.0,208.4 465.5,205.9 466.1,203.8 466.6,202.3 467.2,201.3 467.8,200.8 468.3,200.9 468.9,201.8 469.4,203.4 470.0,205.9 470.6,209.1 471.1,213.1 471.7,217.9 472.2,223.5 472.8,229.9 473.3,238.7 473.9,247.7 474.5,256.6 475.0,265.4 475.6,274.4 476.1,283.2 476.7,292.5 477.3,301.4 477.8,308.8 478.4,314.6 478.9,320.6 479.5,320.3 480.0,328.6 480.6,329.2 481.2,325.1 481.7,330.4 482.3,330.9 482.8,327.7 483.4,319.7 483.9,327.9 484.5,321.2 485.1,329.9 485.6,319.4 486.2,327.6 486.7,320.2 487.3,331.1 487.9,733.8 488.4,319.2 489.0,326.5 489.5,323.6 490.1,327 490.6,347.9 491.2,325 491.8,325.2 492.3,336.5 492.9,325.9 493.4,336.1 494.0,340 494.5,331.2 495.1,338.6 495.7,321.4 496.2,733.8 496.8,328.9 497.3,327.9 497.9,733.8 498.5,733.8 499.0,331.9 499.6,345 500.1,334.2 500.7,329.1 501.2,345.8 501.8,733.8 502.4,733.8 502.9,338.3 503.5,733.8 504.0,337.7 504.6,339.1 505.2,733.8 505.7,327.5 506.3,331.6 506.8,333.6 507.4,733.8 507.9,358.8 508.5,375.7 509.1,361.4 509.6,733.8 510.2,338.9 510.7,342.1 511.3,340.2 511.8,387.7 512.4,331.2 513.0,343.5 513.5,733.8 514.1,733.8 514.6,349.7 515.2,334.1 515.8,361.4 516.3,358.4 516.9,733.8 517.4,337.3 518.0,401.9 518.5,733.8 519.1,733.8 519.7,338.9 520.2,733.8 520.8,733.8 521.3,338.1 521.9,733.8 522.4,341.9 523.0,341.7 523.6,332.6 524.1,333.9 524.7,733.8 525.2,356.5 525.8,733.8 526.4,329.3 526.9,340.8 527.5,331.2 528.0,369.2 528.6,733.8 529.1,330.3 529.7,347.7 530.3,346.7 530.8,348.7 531.4,338.2 531.9,339.6 532.5,733.8 533.1,333.7 533.6,733.8 534.2,733.8 534.7,329.1 535.3,335.2 535.8,373.8 536.4,733.8 537.0,346.2 537.5,339.6 538.1,353.4 538.6,733.8 539.2,733.8 539.7,733.8 540.3,345.1 540.9,336.3 541.4,334.3 542.0,733.8 542.5,344.7 543.1,339.4 543.7,733.8 544.2,356.6 544.8,326.9 545.3,345.3 545.9,335.6 546.4,733.8 547.0,349.4 547.6,733.8 548.1,351.5 548.7,332.9 549.2,327.1 549.8,332.8 550.3,337.8 550.9,349 551.5,733.8 552.0,357.2 552.6,338.7 553.1,733.8 553.7,335.2 554.3,733.8 554.8,733.8 555.4,733.8 555.9,733.8 556.5,733.8 557.0,333.4 557.6,359.6 558.2,345 558.7,333.1 559.3,332.3 559.8,733.8 560.4,331.8 561.0,342 561.5,350.5 562.1,341.1 562.6,733.8 563.2,733.8 563.7,354.7 564.3,338.7 564.9,384.9 565.4,355.6 566.0,334.8 566.5,331.2 567.1,336.9 567.6,332.3 568.2,733.8 568.8,369.4 569.3,343.1 569.9,368.6 570.4,733.8 571.0,329.6 571.6,359.7 572.1,733.8 572.7,340.4 573.2,328.5 573.8,348.3 574.3,332.6 574.9,733.8 575.5,733.8 576.0,733.8 576.6,356.4 577.1,328.5 577.7,733.8 578.2,329.7 578.8,733.8 579.4,362 579.9,336.1 580.5,338.5 581.0,343.8 581.6,733.8 582.2,342.4 582.7,733.8 583.3,324.8 583.8,360.5 584.4,345.7 584.9,733.8 585.5,733.8 586.1,733.8 586.6,334.7 587.2,364.4 587.7,339.4 588.3,733.8 588.9,733.8 589.4,332.1 590.0,733.8 590.5,733.8 591.1,341.6 591.6,733.8 592.2,733.8 592.8,335.4 593.3,733.8 593.9,335.7 594.4,733.8 595.0,330.7 595.5,331.8 596.1,733.8 596.7,360.5 597.2,733.8 597.8,345.4 598.3,333.2 598.9,733.8 599.5,335.3 600.0,733.8 600.6,733.8 601.1,733.8 601.7,327 602.2,348.9 602.8,344.5 603.4,733.8 603.9,333.9 604.5,733.8 605.0,349.8 605.6,326.5 606.1,390.6 606.7,350.1 607.3,338 607.8,733.8 608.4,349.9 608.9,334.9 609.5,345.6 610.1,342.2 610.6,377.3 611.2,343.2 611.7,349 612.3,330.9 612.8,337.4 613.4,362.8 614.0,733.8 614.5,337.5 615.1,337 615.6,733.8 616.2,733.8 616.8,733.8 617.3,335.2 617.9,733.8 618.4,733.8 619.0,345 619.5,332.6 620.1,351.3 620.7,354.4 621.2,733.8 621.8,329.7 622.3,333.9 622.9,354.2 623.4,733.8 624.0,733.8 624.6,339.1 625.1,733.8 625.7,335.6 626.2,342.4 626.8,343.6 627.4,338.2 627.9,340.2 628.5,733.8 629.0,372.4 629.6,325.9 630.1,733.8 630.7,733.8 631.3,333.9 631.8,357.2 632.4,733.8 632.9,733.8 633.5,339.7 634.0,334.3 634.6,331.3 635.2,349 635.7,334.1 636.3,733.8 636.8,346.1 637.4,733.8 638.0,346 638.5,337.1 639.1,333.9 639.6,733.8 640.2,332.3 640.7,733.8 641.3,733.8 641.9,357.8 642.4,733.8 643.0,350.5 643.5,343.6 644.1,359.6 644.7,339.7 645.2,370.5 645.8,350.5 646.3,733.8 646.9,349.4 647.4,733.8 648.0,733.8 648.6,354.1 649.1,345.6" stroke="#9467bd" stroke-opacity="1.0"/>
<path d="M88.9,733.8 89.4,733.8 90.0,370.2 90.6,342.1 91.1,343.8 91.7,337 92.2,333.5 92.8,341.7 93.3,352.7 93.9,733.8 94.5,733.8 95.0,733.8 95.6,345.4 96.1,346.4 96.7,351.9 97.3,358.2 97.8,339.8 98.4,346.6 98.9,344.8 99.5,344.6 100.0,733.8 100.6,733.8 101.2,341.6 101.7,342.7 102.3,362.2 102.8,733.8 103.4,327.4 103.9,733.8 104.5,361.9 105.1,345.3 105.6,733.8 106.2,348.5 106.7,329.9 107.3,336.3 107.9,339.6 108.4,340.1 109.0,348.6 109.5,336 110.1,358.1 110.6,733.8 111.2,348.8 111.8,336.5 112.3,343.9 112.9,338.9 113.4,733.8 114.0,333.8 114.6,326.8 115.1,332.7 115.7,371.9 116.2,733.8 116.8,344.8 117.3,733.8 117.9,338.2 118.5,733.8 119.0,335.8 119.6,332.4 120.1,733.8 120.7,344.4 121.2,733.8 121.8,733.8 122.4,733.8 122.9,361.7 123.5,335 124.0,733.8 124.6,334.8 125.2,328.2 125.7,339.6 126.3,340.3 126.8,351.8 127.4,733.8 127.9,340.4 128.5,342.7 129.1,337.9 129.6,325.5 130.2,338 130.7,342 131.3,330.8 131.8,733.8 132.4,733.8 133.0,387 133.5,733.8 134.1,338.3 134.6,371.5 135.2,329.6 135.8,331 136.3,337.4 136.9,394.3 137.4,339.1 138.0,336.9 138.5,733.8 139.1,343 139.7,338 140.2,345.5 140.8,330.5 141.3,333.1 141.9,733.8 142.5,347.6 143.0,733.8 143.6,339.5 144.1,733.8 144.7,335.6 145.2,342.3 145.8,335.1 146.4,356.8 146.9,733.8 147.5,329.2 148.0,358.2 148.6,331.7 149.1,341.5 149.7,338.2 150.3,328.8 150.8,342.9 151.4,331.5 151.9,733.8 152.5,336 153.1,362.8 153.6,356.1 154.2,350.5 154.7,342.8 155.3,329.7 155.8,733.8 156.4,349.4 157.0,733.8 157.5,333.2 158.1,733.8 158.6,340.9 159.2,415.8 159.7,338 160.3,334.4 160.9,415.3 161.4,349.2 162.0,733.8 162.5,343.3 163.1,335.9 163.7,733.8 164.2,333.4 164.8,733.8 165.3,733.8 165.9,733.8 166.4,733.8 167.0,349.9 167.6,353.4 168.1,352.9 168.7,337.2 169.2,733.8 169.8,733.8 170.4,733.8 170.9,326.8 171.5,733.8 172.0,357.9 172.6,330.6 173.1,340.2 173.7,733.8 174.3,350.3 174.8,335.6 175.4,332.4 175.9,733.8 176.5,336.6 177.0,344 177.6,333.3 178.2,331 178.7,375.4 179.3,733.8 179.8,341.4 180.4,328.4 181.0,337.4 181.5,344.4 182.1,325.2 182.6,733.8 183.2,335 183.7,733.8 184.3,348.7 184.9,347.6 185.4,330 186.0,733.8 186.5,733.8 187.1,733.8 187.6,339.8 188.2,733.8 188.8,340.8 189.3,733.8 189.9,379.5 190.4,333.6 191.0,357.4 191.6,337.9 192.1,339.2 192.7,377.6 193.2,733.8 193.8,334 194.3,345.4 194.9,334 195.5,733.8 196.0,733.8 196.6,733.8 197.1,733.8 197.7,333.4 198.3,338.5 198.8,351 199.4,346.2 199.9,336.1 200.5,368 201.0,341 201.6,346 202.2,733.8 202.7,391.9 203.3,330.7 203.8,408.5 204.4,355.5 204.9,733.8 205.5,733.8 206.1,332.5 206.6,364 207.2,733.8 207.7,733.8 208.3,733.8 208.9,733.8 209.4,733.8 210.0,335.5 210.5,336.5 211.1,733.8 211.6,334.9 212.2,339.7 212.8,733.8 213.3,336.1 213.9,733.8 214.4,733.8 215.0,733.8 215.5,733.8 216.1,334.5 216.7,733.8 217.2,733.8 217.8,733.8 218.3,344.3 218.9,373.8 219.5,334.6 220.0,733.8 220.6,733.8 221.1,733.8 221.7,348.3 222.2,733.8 222.8,342.7 223.4,327.3 223.9,733.8 224.5,348.2 225.0,330.4 225.6,733.8 226.2,733.8 226.7,733.8 227.3,340.6 227.8,338.8 228.4,356 228.9,348.4 229.5,330.9 230.1,334.6 230.6,733.8 231.2,350.2 231.7,346.7 232.3,336.2 232.8,361.5 233.4,733.8 234.0,733.8 234.5,733.8 235.1,350.9 235.6,733.8 236.2,339.6 236.8,733.8 237.3,733.8 237.9,733.8 238.4,733.8 239.0,336.4 239.5,733.8 240.1,339.9 240.7,733.8 241.2,347.1 241.8,733.8 242.3,733.8 242.9,733.8 243.4,337.9 244.0,345.1 244.6,358.8 245.1,334.8 245.7,344.8 246.2,338.5 246.8,335.6 247.4,353 247.9,372.5 248.5,341.9 249.0,733.8 249.6,340.8 250.1,332.1 250.7,334.5 251.3,733.8 251.8,733.8 252.4,352.5 252.9,355.9 253.5,332.1 254.1,733.8 254.6,361.7 255.2,335.8 255.7,733.8 256.3,358 256.8,327.5 257.4,329 258.0,337.1 258.5,343 259.1,733.8 259.6,338 260.2,348.2 260.7,343.9 261.3,733.8 261.9,350.6 262.4,359.6 263.0,341.9 263.5,329.3 264.1,341.1 264.7,733.8 265.2,733.8 265.8,733.8 266.3,733.8 266.9,337.9 267.4,340.3 268.0,733.8 268.6,342.8 269.1,733.8 269.7,733.8 270.2,733.8 270.8,733.8 271.3,329.2 271.9,733.8 272.5,330.5 273.0,329.9 273.6,359.3 274.1,351.9 274.7,733.8 275.3,350.8 275.8,336.3 276.4,349.5 276.9,332.6 277.5,330.9 278.0,341 278.6,341.3 279.2,351.9 279.7,340.8 280.3,733.8 280.8,339.6 281.4,343.2 282.0,733.8 282.5,324.3 283.1,733.8 283.6,733.8 284.2,340.1 284.7,733.8 285.3,733.8 285.9,733.8 286.4,733.8 287.0,342 287.5,333.7 288.1,326.3 288.6,326.8 289.2,323.3 289.8,326.6 290.3,327.8 290.9,321.8 291.4,326.8 292.0,327.2 292.6,320.7 293.1,322.5 293.7,324.2 294.2,322.6 294.8,322.2 295.3,330.2 295.9,325 296.5,329.2 297.0,324.3 297.6,327 298.1,320.8 298.7,323 299.2,327.4 299.8,733.8 300.4,329 300.9,324.3 301.5,322.8 302.0,323.4 302.6,332.1 303.2,325 303.7,322.3 304.3,322.7 304.8,320.4 305.4,327.6 305.9,321.7 306.5,324.9 307.1,322.2 307.6,321.5 308.2,320.3 308.7,322 309.3,318.4 309.9,320.8 310.4,319.6 311.0,314.5 311.5,315.5 312.1,318.8 312.6,316.6 313.2,314.7 313.8,312 314.3,312.9 314.9,313.4 315.4,319.2 316.0,315.2 316.5,314.1 317.1,314.3 317.7,314.3 318.2,315.7 318.8,312 319.3,312.5 319.9,315.5 320.5,318.3 321.0,312.7 321.6,318.9 322.1,315.5 322.7,314.6 323.2,322.9 323.8,318.9 324.4,319.7 324.9,315.9 325.5,314.7 326.0,310.6 326.6,311.4 327.1,310.9 327.7,308.2 328.3,308.8 328.8,307.8 329.4,304.3 329.9,306.5 330.5,305.3 331.1,304.2 331.6,304.7 332.2,305.2 332.7,302.2 333.3,303.5 333.8,303.2 334.4,303.1 335.0,303.7 335.5,304 336.1,303.4 336.6,302.1 337.2,303.9 337.8,304.5 338.3,307.6 338.9,306.9 339.4,309.4 340.0,308.1 340.5,310.6 341.1,311.5 341.7,313.1 342.2,315.7 342.8,320 343.3,316.5 343.9,321.8 344.4,316.6 345.0,311.1 345.6,308.1 346.1,303.9 346.7,300.5 347.2,298.2 347.8,295.7 348.4,293.4 348.9,290.9 349.5,289.6 350.0,287.2 350.6,285.9 351.1,284.5 351.7,283.1 352.3,282.1 352.8,281.1 353.4,280.5 353.9,280.5 354.5,280 355.0,279.7 355.6,280.2 356.2,280.7 356.7,281.9 357.3,283.5 357.8,285.1 358.4,286.7 359.0,288.9 359.5,292.1 360.1,294.9 360.6,297.9 361.2,303 361.7,305.9 362.3,307.7 362.9,303.9 363.4,300.6 364.0,294.5 364.5,290.3 365.1,285.4 365.7,280.7 366.2,275.7 366.8,271.4 367.3,267.1 367.9,263.2 368.4,259.3 369.0,255.8 369.6,252.3 370.1,249.1 370.7,246.1 371.2,243.4 371.8,240.9 372.3,238.6 372.9,236.7 373.5,235 374.0,233.5 374.6,232.5 375.1,231.8 375.7,231.7 376.3,232.9 376.8,234.9 377.4,237.6 377.9,241 378.5,244.9 379.0,249.4 379.6,254.4 380.2,260 380.7,265.9 381.3,272.6 381.8,279.4 382.4,286.6 382.9,286.6 383.5,277.9 384.1,269.3 384.6,261.3 385.2,253.7 385.7,246.6 386.3,239.9 386.9,233.7 387.4,227.9 388.0,222.6 388.5,217.7 389.1,213.3 389.6,209.4 390.2,205.9 390.8,202.9 391.3,200.3 391.9,198.1 392.4,196.5 393.0,195.3 393.6,194.5 394.1,194.2 394.7,194.3 395.2,194.9 395.8,195.8 396.3,197.1 396.9,198.8 397.5,200.9 398.0,203.4 398.6,206.3 399.1,209.6 399.7,213.3 400.2,217.4 400.8,221.8 401.4,226.7 401.9,231.9 402.5,237.6 403.0,243.6 403.6,250.1 404.2,256.9 404.7,248 405.3,238.4 405.8,229.6 406.4,221.5 406.9,214.2 407.5,207.6 408.1,201.7 408.6,196.5 409.2,191.9 409.7,188 410.3,184.6 410.8,181.8 411.4,179.6 412.0,177.8 412.5,176.6 413.1,175.7 413.6,175.2 414.2,175 414.8,175 415.3,175.2 415.9,175.5 416.4,176.2 417.0,177.3 417.5,178.7 418.1,180.5 418.7,182.8 419.2,185.5 419.8,188.8 420.3,192.5 420.9,196.8 421.5,201.6 422.0,207.1 422.6,213.1 423.1,219.7 423.7,227 424.2,234.9 424.8,243.4 425.4,250.6 425.9,240.6 426.5,231.2 427.0,222.6 427.6,214.6 428.1,207.2 428.7,200.5 429.3,194.4 429.8,188.9 430.4,183.9 430.9,179.6 431.5,175.8 432.1,172.6 432.6,169.9 433.2,167.7 433.7,165.9 434.3,164.6 434.8,163.7 435.4,163.2 436.0,163 436.5,163 437.1,163.3 437.6,163.9 438.2,164.9 438.7,166.3 439.3,168.2 439.9,170.6 440.4,173.5 441.0,177 441.5,181 442.1,185.6 442.7,190.9 443.2,196.7 443.8,203.2 444.3,210.4 444.9,218.2 445.4,226.7 446.0,235.9 446.6,245.7 447.1,241.1 447.7,232.3 448.2,224.1 448.8,216.7 449.4,210 449.9,204 450.5,198.8 451.0,194.3 451.6,190.5 452.1,187.5 452.7,185.1 453.3,183.5 453.8,182.7 454.4,182.5 454.9,182.8 455.5,183.4 456.0,184.3 456.6,185.6 457.2,187.2 457.7,189.1 458.3,191.4 458.8,194 459.4,196.9 460.0,200.1 460.5,203.7 461.1,207.7 461.6,211.9 462.2,216.5 462.7,221.4 463.3,226.7 463.9,232.2 464.4,232.7 465.0,225.1 465.5,218.2 466.1,212 466.6,206.3 467.2,201.3 467.8,197 468.3,193.3 468.9,190.2 469.4,187.7 470.0,185.9 470.6,184.8 471.1,184.2 471.7,184.4 472.2,185.1 472.8,186.6 473.3,188.7 473.9,191.6 474.5,195 475.0,199.2 475.6,204 476.1,209.6 476.7,215.7 477.3,222.6 477.8,230.2 478.4,239.1 478.9,248 479.5,256.9 480.0,265.9 480.6,274.8 481.2,283.9 481.7,292.9 482.3,300.8 482.8,309.4 483.4,322 483.9,327.4 484.5,324.9 485.1,320.8 485.6,327.9 486.2,323.3 486.7,334.9 487.3,328.4 487.9,321.2 488.4,319.7 489.0,327.8 489.5,327 490.1,321.4 490.6,327.1 491.2,329 491.8,324.6 492.3,326.8 492.9,323.4 493.4,325.3 494.0,334.9 494.5,332 495.1,332.4 495.7,356.5 496.2,346.7 496.8,327.5 497.3,733.8 497.9,328.2 498.5,333.6 499.0,338.7 499.6,332.6 500.1,333.5 500.7,328.7 501.2,346.8 501.8,344.1 502.4,345.2 502.9,326 503.5,331.8 504.0,733.8 504.6,351 505.2,733.8 505.7,343.7 506.3,340.7 506.8,325 507.4,733.8 507.9,332.6 508.5,338.7 509.1,733.8 509.6,350.9 510.2,383.1 510.7,346.2 511.3,333.5 511.8,733.8 512.4,331.3 513.0,368.3 513.5,330.1 514.1,340.6 514.6,332.1 515.2,338.7 515.8,333.4 516.3,348 516.9,733.8 517.4,337.6 518.0,337.2 518.5,326.9 519.1,733.8 519.7,358.8 520.2,333.9 520.8,733.8 521.3,361.4 521.9,326.9 522.4,331.2 523.0,733.8 523.6,331.1 524.1,333 524.7,336.8 525.2,342.2 525.8,344.9 526.4,733.8 526.9,733.8 527.5,337.4 528.0,347.2 528.6,328.5 529.1,378.1 529.7,733.8 530.3,378.6 530.8,344.3 531.4,342.4 531.9,349.2 532.5,733.8 533.1,330.8 533.6,733.8 534.2,337.8 534.7,369.9 535.3,733.8 535.8,331.3 536.4,733.8 537.0,733.8 537.5,341.6 538.1,389 538.6,337.3 539.2,355.4 539.7,733.8 540.3,326.9 540.9,362.6 541.4,358.3 542.0,733.8 542.5,733.8 543.1,338.5 543.7,339.6 544.2,351.3 544.8,733.8 545.3,338 545.9,733.8 546.4,380.7 547.0,365.3 547.6,733.8 548.1,346.9 548.7,733.8 549.2,733.8 549.8,328.8 550.3,337.3 550.9,332.9 551.5,349.5 552.0,335 552.6,336.9 553.1,332.8 553.7,325.8 554.3,362.4 554.8,344.5 555.4,352.8 555.9,733.8 556.5,733.8 557.0,350.4 557.6,338.5 558.2,733.8 558.7,333.4 559.3,332.2 559.8,733.8 560.4,331.2 561.0,329 561.5,340.8 562.1,733.8 562.6,330.8 563.2,357.7 563.7,389.9 564.3,347.4 564.9,733.8 565.4,333.9 566.0,336.8 566.5,332.7 567.1,339.1 567.6,733.8 568.2,357.2 568.8,335.7 569.3,733.8 569.9,323.4 570.4,362.6 571.0,733.8 571.6,333.2 572.1,337.1 572.7,351.6 573.2,361.7 573.8,341.3 574.3,336.1 574.9,336.9 575.5,368.7 576.0,341.2 576.6,336 577.1,336.9 577.7,733.8 578.2,733.8 578.8,733.8 579.4,361.7 579.9,345.9 580.5,335.3 581.0,338.6 581.6,355.6 582.2,349.9 582.7,328.9 583.3,733.8 583.8,343.4 584.4,330.2 584.9,342.6 585.5,733.8 586.1,342.1 586.6,395.1 587.2,354.9 587.7,334.1 588.3,340.7 588.9,364.6 589.4,335.6 590.0,341.2 590.5,347.7 591.1,343.4 591.6,344.3 592.2,375 592.8,733.8 593.3,349.9 593.9,733.8 594.4,733.8 595.0,332 595.5,362.4 596.1,351.5 596.7,356 597.2,349.9 597.8,349.9 598.3,348.7 598.9,733.8 599.5,335.2 600.0,733.8 600.6,334.2 601.1,733.8 601.7,733.8 602.2,334.6 602.8,356.6 603.4,733.8 603.9,342.1 604.5,733.8 605.0,348.4 605.6,733.8 606.1,733.8 606.7,733.8 607.3,339.7 607.8,335.7 608.4,733.8 608.9,329.9 609.5,733.8 610.1,733.8 610.6,733.8 611.2,330.3 611.7,353.8 612.3,733.8 612.8,733.8 613.4,733.8 614.0,331.6 614.5,353.7 615.1,328.8 615.6,359.5 616.2,733.8 616.8,336 617.3,383.2 617.9,362.2 618.4,330.1 619.0,364.5 619.5,333.1 620.1,350.8 620.7,733.8 621.2,340.1 621.8,733.8 622.3,332.6 622.9,334.9 623.4,348.8 624.0,338.7 624.6,339.3 625.1,365.7 625.7,335.5 626.2,361.5 626.8,338.7 627.4,733.8 627.9,347.7 628.5,341.5 629.0,733.8 629.6,733.8 630.1,733.8 630.7,337.3 631.3,733.8 631.8,341.1 632.4,330.4 632.9,342.4 633.5,733.8 634.0,347 634.6,334.1 635.2,366.2 635.7,333.5 636.3,338.5 636.8,341.3 637.4,363.6 638.0,733.8 638.5,363.1 639.1,348.5 639.6,339.8 640.2,341.3 640.7,367.4 641.3,348.4 641.9,341.8 642.4,733.8 643.0,733.8 643.5,733.8 644.1,359.1 644.7,364.5 645.2,362.9 645.8,733.8 646.3,337.8 646.9,343.6 647.4,733.8 648.0,349.8 648.6,733.8 649.1,329.2" stroke="#1f77b4" stroke-opacity="1.0"/>
<path d="M88.9,733.8 89.4,389.8 90.0,349.3 90.6,360.1 91.1,353.6 91.7,331.6 92.2,346 92.8,337.4 93.3,334.7 93.9,733.8 94.5,330.7 95.0,338.9 95.6,336.1 96.1,733.8 96.7,337.5 97.3,342.6 97.8,733.8 98.4,327.4 98.9,340.4 99.5,362.3 100.0,346.4 100.6,336.5 101.2,334.5 101.7,340.1 102.3,333.7 102.8,331.9 103.4,733.8 103.9,733.8 104.5,733.8 105.1,348.5 105.6,332 106.2,339.1 106.7,733.8 107.3,366.6 107.9,335.2 108.4,733.8 109.0,354.5 109.5,344.1 110.1,733.8 110.6,337.6 111.2,343.4 111.8,340 112.3,733.8 112.9,733.8 113.4,733.8 114.0,345 114.6,349 115.1,347.6 115.7,329.6 116.2,332.8 116.8,733.8 117.3,733.8 117.9,330 118.5,369 119.0,332.2 119.6,330.7 120.1,733.8 120.7,364.1 121.2,348.5 121.8,733.8 122.4,733.8 122.9,390.8 123.5,336.5 124.0,733.8 124.6,359.5 125.2,733.8 125.7,733.8 126.3,331.3 126.8,733.8 127.4,733.8 127.9,339.8 128.5,733.8 129.1,339.2 129.6,332.9 130.2,733.8 130.7,345.5 131.3,733.8 131.8,340.4 132.4,348.2 133.0,345.3 133.5,332 134.1,340.9 134.6,332.1 135.2,338.7 135.8,733.8 136.3,344.3 136.9,340.6 137.4,733.8 138.0,332.1 138.5,348.6 139.1,342.4 139.7,733.8 140.2,348.4 140.8,343.5 141.3,369.8 141.9,348.2 142.5,733.8 143.0,331.8 143.6,733.8 144.1,733.8 144.7,733.8 145.2,733.8 145.8,339.7 146.4,733.8 146.9,343.7 147.5,733.8 148.0,326.7 148.6,339.6 149.1,328 149.7,733.8 150.3,338.1 150.8,733.8 151.4,339.1 151.9,337.9 152.5,733.8 153.1,733.8 153.6,733.8 154.2,733.8 154.7,733.8 155.3,733.8 155.8,733.8 156.4,347.5 157.0,339.5 157.5,733.8 158.1,733.8 158.6,350 159.2,360.8 159.7,733.8 160.3,336.3 160.9,335.9 161.4,337.7 162.0,359.3 162.5,327.6 163.1,328.9 163.7,398 164.2,354.7 164.8,332.7 165.3,733.8 165.9,341.5 166.4,348.8 167.0,733.8 167.6,360.9 168.1,733.8 168.7,733.8 169.2,733.8 169.8,325.9 170.4,330.3 170.9,332.3 171.5,343 172.0,334.2 172.6,331.9 173.1,334.1 173.7,335 174.3,733.8 174.8,340.9 175.4,733.8 175.9,733.8 176.5,733.8 177.0,340.9 177.6,333.7 178.2,733.8 178.7,328.6 179.3,330.4 179.8,386.4 180.4,733.8 181.0,352.7 181.5,334.2 182.1,388.5 182.6,733.8 183.2,342.2 183.7,733.8 184.3,346.2 184.9,332.6 185.4,342.8 186.0,336.2 186.5,339.8 187.1,336.8 187.6,346.1 188.2,733.8 188.8,360.7 189.3,352.7 189.9,331.7 190.4,329.2 191.0,340.8 191.6,733.8 192.1,733.8 192.7,358.1 193.2,330.7 193.8,342.1 194.3,351.9 194.9,733.8 195.5,334.9 196.0,342.9 196.6,351.7 197.1,346.9 197.7,328.6 198.3,356.5 198.8,328.6 199.4,331.7 199.9,348.3 200.5,334.8 201.0,354.6 201.6,733.8 202.2,364.1 202.7,733.8 203.3,339.2 203.8,349.3 204.4,338.4 204.9,335.3 205.5,733.8 206.1,342.3 206.6,733.8 207.2,345.2 207.7,733.8 208.3,346.7 208.9,330.5 209.4,733.8 210.0,344.6 210.5,352.4 211.1,733.8 211.6,337.2 212.2,348.5 212.8,733.8 213.3,733.8 213.9,321.2 214.4,403.3 215.0,733.8 215.5,733.8 216.1,381.5 216.7,391.2 217.2,352.3 217.8,733.8 218.3,338.4 218.9,733.8 219.5,733.8 220.0,733.8 220.6,391.4 221.1,334.7 221.7,339.2 222.2,373.4 222.8,348.8 223.4,343.8 223.9,326.1 224.5,733.8 225.0,339.4 225.6,336 226.2,733.8 226.7,344.3 227.3,344.9 227.8,733.8 228.4,337.9 228.9,332.9 229.5,332 230.1,357.6 230.6,344.2 231.2,324.4 231.7,733.8 232.3,343.5 232.8,334.1 233.4,345 234.0,336.6 234.5,344.5 235.1,335.5 235.6,330.6 236.2,359.5 236.8,343.9 237.3,351 237.9,733.8 238.4,349.7 239.0,733.8 239.5,335.5 240.1,327.6 240.7,327.6 241.2,330.5 241.8,733.8 242.3,328.8 242.9,733.8 243.4,350.8 244.0,326.7 244.6,733.8 245.1,334.3 245.7,342 246.2,355 246.8,733.8 247.4,339.6 247.9,733.8 248.5,332.3 249.0,330.8 249.6,733.8 250.1,733.8 250.7,369.4 251.3,733.8 251.8,733.8 252.4,346.2 252.9,358.2 253.5,733.8 254.1,733.8 254.6,338 255.2,733.8 255.7,733.8 256.3,328 256.8,329.9 257.4,733.8 258.0,733.8 258.5,340.1 259.1,733.8 259.6,361.5 260.2,733.8 260.7,337.3 261.3,733.8 261.9,733.8 262.4,733.8 263.0,332.3 263.5,354.8 264.1,733.8 264.7,338.2 265.2,335.4 265.8,360.8 266.3,371 266.9,338.9 267.4,330.5 268.0,344.3 268.6,337.5 269.1,350.1 269.7,387.7 270.2,733.8 270.8,342 271.3,366.2 271.9,360.4 272.5,332.9 273.0,338 273.6,333.4 274.1,733.8 274.7,337 275.3,733.8 275.8,733.8 276.4,733.8 276.9,330.3 277.5,333.7 278.0,733.8 278.6,733.8 279.2,347.5 279.7,733.8 280.3,327 280.8,733.8 281.4,733.8 282.0,358.6 282.5,346.5 283.1,343.1 283.6,333.7 284.2,324.1 284.7,358.4 285.3,392 285.9,733.8 286.4,337.5 287.0,330.2 287.5,343.3 288.1,326.4 288.6,334.3 289.2,322.7 289.8,327.5 290.3,334.1 290.9,327.9 291.4,331.2 292.0,332.3 292.6,323.9 293.1,322.2 293.7,319.5 294.2,324.8 294.8,325.4 295.3,328.8 295.9,321.7 296.5,323.3 297.0,326.5 297.6,322.4 298.1,322.7 298.7,332.3 299.2,733.8 299.8,323.9 300.4,325.6 300.9,325.6 301.5,319.6 302.0,320 302.6,319.3 303.2,327.8 303.7,325.7 304.3,321 304.8,327.3 305.4,325.3 305.9,329.4 306.5,318.4 307.1,319.9 307.6,321.2 308.2,321.3 308.7,321.5 309.3,319.9 309.9,316 310.4,317.6 311.0,313.2 311.5,316.3 312.1,316.8 312.6,312.3 313.2,315 313.8,313.7 314.3,315.6 314.9,320.3 315.4,313.8 316.0,317.9 316.5,312.9 317.1,318.5 317.7,319.5 318.2,314.4 318.8,314.3 319.3,314.9 319.9,317.9 320.5,314 321.0,320.5 321.6,318.5 322.1,320.3 322.7,319.9 323.2,317.4 323.8,322.5 324.4,317.9 324.9,316 325.5,320.2 326.0,316.7 326.6,313.4 327.1,312.3 327.7,309.7 328.3,311.7 328.8,307.2 329.4,306.3 329.9,306.6 330.5,307.2 331.1,305.3 331.6,305.4 332.2,304.2 332.7,304.7 333.3,304 333.8,305.3 334.4,303.9 335.0,308.1 335.5,307.3 336.1,306.4 336.6,309.6 337.2,307.8 337.8,311.6 338.3,310.9 338.9,314 339.4,314.7 340.0,315.1 340.5,317.4 341.1,320 341.7,315.3 342.2,322.8 342.8,330 343.3,323 343.9,323.4 344.4,319 345.0,314.7 345.6,316.9 346.1,309.6 346.7,306.4 347.2,304.3 347.8,301.1 348.4,300.2 348.9,296.2 349.5,293 350.0,292.2 350.6,290.1 351.1,288.4 351.7,287.1 352.3,286 352.8,286.1 353.4,285.4 353.9,285.2 354.5,285.8 355.0,285.9 355.6,286.1 356.2,287 356.7,288.3 357.3,290.5 357.8,291.3 358.4,292.8 359.0,295.1 359.5,297.2 360.1,297.8 360.6,302.3 361.2,305.9 361.7,307.7 362.3,307.7 362.9,303.7 363.4,299.7 364.0,295.7 364.5,292.4 365.1,289.5 365.7,286 366.2,282.9 366.8,280.2 367.3,277.3 367.9,274.8 368.4,272.6 369.0,270.4 369.6,268.4 370.1,266.7 370.7,265.2 371.2,263.9 371.8,262.9 372.3,262.2 372.9,261.8 373.5,261.9 374.0,262.4 374.6,263.1 375.1,264 375.7,265.1 376.3,266.3 376.8,267.7 377.4,269.3 377.9,271 378.5,273 379.0,274.9 379.6,276.8 380.2,279 380.7,281.5 381.3,284.1 381.8,286.9 382.4,289.2 382.9,279.8 383.5,271 384.1,262.5 384.6,254.6 385.2,247.4 385.7,240.7 386.3,234.6 386.9,229.2 387.4,224.3 388.0,220 388.5,216.3 389.1,213.2 389.6,210.7 390.2,208.8 390.8,207.5 391.3,206.8 391.9,206.7 392.4,206.9 393.0,207.3 393.6,208 394.1,208.9 394.7,210 395.2,211.3 395.8,212.9 396.3,214.7 396.9,216.7 397.5,219 398.0,221.5 398.6,224.2 399.1,227.2 399.7,230.4 400.2,233.8 400.8,237.5 401.4,241.4 401.9,245.5 402.5,249.8 403.0,241 403.6,232.3 404.2,224.2 404.7,216.9 405.3,210.1 405.8,204 406.4,198.5 406.9,193.6 407.5,189.3 408.1,185.5 408.6,182.2 409.2,179.5 409.7,177.2 410.3,175.3 410.8,173.9 411.4,172.9 412.0,172.2 412.5,171.8 413.1,171.7 413.6,171.7 414.2,171.9 414.8,172.4 415.3,173.2 415.9,174.4 416.4,176 417.0,178.1 417.5,180.6 418.1,183.7 418.7,187.3 419.2,191.5 419.8,196.3 420.3,201.7 420.9,207.7 421.5,214.4 422.0,221.7 422.6,229.8 423.1,238.5 423.7,248 424.2,239.2 424.8,230.5 425.4,222.5 425.9,215 426.5,208.1 427.0,201.8 427.6,196 428.1,190.9 428.7,186.2 429.3,182.1 429.8,178.5 430.4,175.4 430.9,172.8 431.5,170.6 432.1,168.9 432.6,167.6 433.2,166.7 433.7,166.1 434.3,165.8 434.8,165.8 435.4,166 436.0,166.5 436.5,167.4 437.1,168.8 437.6,170.6 438.2,173 438.7,175.9 439.3,179.4 439.9,183.5 440.4,188.2 441.0,193.5 441.5,199.5 442.1,206.1 442.7,213.5 443.2,221.5 443.8,230.3 444.3,235.7 444.9,228.3 445.4,221.4 446.0,215 446.6,209.1 447.1,203.7 447.7,198.8 448.2,194.4 448.8,190.5 449.4,187.1 449.9,184.3 450.5,181.9 451.0,180.1 451.6,178.7 452.1,177.9 452.7,177.5 453.3,177.6 453.8,178.2 454.4,179.2 454.9,180.7 455.5,182.6 456.0,184.9 456.6,187.6 457.2,190.8 457.7,194.5 458.3,198.5 458.8,203 459.4,208 460.0,213.4 460.5,219.2 461.1,225.4 461.6,232.1 462.2,227.3 462.7,221.2 463.3,215.6 463.9,210.6 464.4,206 465.0,201.9 465.5,198.4 466.1,195.3 466.6,192.8 467.2,190.7 467.8,189.2 468.3,188.1 468.9,187.6 469.4,187.6 470.0,188.2 470.6,189.5 471.1,191.4 471.7,194 472.2,197.3 472.8,201.3 473.3,205.9 473.9,211.2 474.5,217.1 475.0,223.8 475.6,231.2 476.1,240.2 476.7,249.1 477.3,258 477.8,266.9 478.4,275.7 478.9,284.7 479.5,293.3 480.0,301.2 480.6,311.4 481.2,315.2 481.7,317.4 482.3,319.9 482.8,317.1 483.4,319.7 483.9,326.2 484.5,318.9 485.1,321.4 485.6,321.1 486.2,322 486.7,318.3 487.3,320.6 487.9,325.3 488.4,320.9 489.0,320.8 489.5,328.2 490.1,328.2 490.6,329.4 491.2,332.5 491.8,327.6 492.3,325.2 492.9,322.4 493.4,325.8 494.0,327.3 494.5,327.2 495.1,326.8 495.7,342.5 496.2,331.7 496.8,335.5 497.3,341.9 497.9,350.5 498.5,354.2 499.0,347.9 499.6,733.8 500.1,336.4 500.7,344.7 501.2,342.8 501.8,339.6 502.4,335.4 502.9,733.8 503.5,349.5 504.0,733.8 504.6,733.8 505.2,733.8 505.7,329.8 506.3,733.8 506.8,339.6 507.4,330.3 507.9,733.8 508.5,329.4 509.1,328.2 509.6,334.7 510.2,325.6 510.7,338.2 511.3,733.8 511.8,339.5 512.4,733.8 513.0,733.8 513.5,733.8 514.1,325.9 514.6,733.8 515.2,350.8 515.8,733.8 516.3,346.4 516.9,361 517.4,402.9 518.0,733.8 518.5,733.8 519.1,733.8 519.7,343.3 520.2,327.1 520.8,333.9 521.3,328.5 521.9,340.2 522.4,353.1 523.0,733.8 523.6,350 524.1,733.8 524.7,366.3 525.2,329.6 525.8,342.6 526.4,333.2 526.9,381 527.5,733.8 528.0,733.8 528.6,386.6 529.1,332.6 529.7,327.6 530.3,733.8 530.8,374.3 531.4,355.4 531.9,372.3 532.5,733.8 533.1,347.4 533.6,342 534.2,341.6 534.7,733.8 535.3,353.9 535.8,733.8 536.4,335.1 537.0,733.8 537.5,363.1 538.1,733.8 538.6,733.8 539.2,733.8 539.7,733.8 540.3,328.9 540.9,343.7 541.4,343.6 542.0,326.9 542.5,353.2 543.1,339.1 543.7,349.1 544.2,332.7 544.8,339.8 545.3,342.6 545.9,361.3 546.4,343.3 547.0,332.8 547.6,733.8 548.1,354.3 548.7,393.8 549.2,365 549.8,733.8 550.3,336.9 550.9,733.8 551.5,359.2 552.0,733.8 552.6,733.8 553.1,733.8 553.7,733.8 554.3,733.8 554.8,366.4 555.4,349.8 555.9,348.1 556.5,354.6 557.0,326.7 557.6,340.7 558.2,733.8 558.7,733.8 559.3,733.8 559.8,356.4 560.4,733.8 561.0,733.8 561.5,329.4 562.1,348.4 562.6,369 563.2,360.9 563.7,358.6 564.3,331.1 564.9,340 565.4,333.2 566.0,733.8 566.5,342.4 567.1,333.7 567.6,327.5 568.2,348.7 568.8,733.8 569.3,338.6 569.9,733.8 570.4,733.8 571.0,733.8 571.6,333.7 572.1,332.5 572.7,337 573.2,733.8 573.8,324.9 574.3,733.8 574.9,352.1 575.5,733.8 576.0,331.6 576.6,340.5 577.1,335.2 577.7,347.1 578.2,351.7 578.8,345.2 579.4,733.8 579.9,334.2 580.5,335 581.0,378.2 581.6,349.8 582.2,342.7 582.7,329.9 583.3,340.6 583.8,348.2 584.4,733.8 584.9,733.8 585.5,733.8 586.1,347.4 586.6,360.2 587.2,347.3 587.7,336.6 588.3,340.5 588.9,343.1 589.4,337.6 590.0,344.8 590.5,350.2 591.1,340 591.6,733.8 592.2,332 592.8,733.8 593.3,335.6 593.9,348.9 594.4,333.2 595.0,348.2 595.5,733.8 596.1,333.5 596.7,344.7 597.2,346.2 597.8,347 598.3,334.1 598.9,335.8 599.5,343.8 600.0,733.8 600.6,378.3 601.1,346.4 601.7,328.4 602.2,341.2 602.8,352 603.4,332.4 603.9,352.7 604.5,349.9 605.0,345.2 605.6,733.8 606.1,334.4 606.7,340.5 607.3,361.6 607.8,733.8 608.4,344.1 608.9,330.9 609.5,733.8 610.1,733.8 610.6,340.6 611.2,733.8 611.7,733.8 612.3,396.7 612.8,733.8 613.4,361 614.0,733.8 614.5,341.9 615.1,357.5 615.6,733.8 616.2,733.8 616.8,337.8 617.3,334.4 617.9,334.9 618.4,337 619.0,733.8 619.5,733.8 620.1,363.8 620.7,344.1 621.2,733.8 621.8,330.7 622.3,342.4 622.9,733.8 623.4,345 624.0,366.9 624.6,733.8 625.1,339.3 625.7,404.3 626.2,733.8 626.8,733.8 627.4,352.5 627.9,733.8 628.5,331.9 629.0,733.8 629.6,328.6 630.1,334.9 630.7,733.8 631.3,345.6 631.8,332.5 632.4,355.6 632.9,733.8 633.5,346 634.0,327.3 634.6,733.8 635.2,338.6 635.7,348.5 636.3,352.5 636.8,372.1 637.4,363.6 638.0,333.6 638.5,338.1 639.1,733.8 639.6,329.8 640.2,733.8 640.7,337.3 641.3,344.4 641.9,332.3 642.4,341.3 643.0,333.4 643.5,349.3 644.1,334.1 644.7,341.5 645.2,326.5 645.8,733.8 646.3,332.3 646.9,339.7 647.4,344.4 648.0,733.8 648.6,339.9 649.1,733.8" stroke="#17becf" stroke-opacity="1.0"/>
<path d="M88.9,733.8 89.4,340.5 90.0,733.8 90.6,334.4 91.1,363.5 91.7,346.8 92.2,350.4 92.8,344.1 93.3,363.7 93.9,371.4 94.5,356.2 95.0,337.2 95.6,336.5 96.1,335.4 96.7,344.8 97.3,359.2 97.8,733.8 98.4,341.1 98.9,339 99.5,376.3 100.0,339.3 100.6,335.2 101.2,349.7 101.7,337 102.3,345.6 102.8,733.8 103.4,413.8 103.9,377.3 104.5,342.3 105.1,733.8 105.6,384.5 106.2,733.8 106.7,353 107.3,350.1 107.9,337.5 108.4,339.2 109.0,348 109.5,346.6 110.1,349.2 110.6,349.1 111.2,333.2 111.8,733.8 112.3,357.7 112.9,345.3 113.4,336.1 114.0,733.8 114.6,344.7 115.1,338.4 115.7,386.6 116.2,733.8 116.8,369.7 117.3,733.8 117.9,340.6 118.5,733.8 119.0,331.6 119.6,348.3 120.1,733.8 120.7,733.8 121.2,733.8 121.8,343.9 122.4,333.3 122.9,359.3 123.5,337.7 124.0,733.8 124.6,345.1 125.2,328.8 125.7,733.8 126.3,335.1 126.8,335.5 127.4,733.8 127.9,733.8 128.5,733.8 129.1,337.2 129.6,380.9 130.2,357 130.7,339.7 131.3,348.5 131.8,346.4 132.4,365.8 133.0,335.8 133.5,733.8 134.1,331.9 134.6,367.3 135.2,733.8 135.8,340.3 136.3,342.7 136.9,733.8 137.4,346.4 138.0,733.8 138.5,733.8 139.1,338.7 139.7,733.8 140.2,344.1 140.8,372.1 141.3,330.3 141.9,354.2 142.5,733.8 143.0,733.8 143.6,733.8 144.1,348.2 144.7,351.4 145.2,336.9 145.8,347.4 146.4,348.2 146.9,344.5 147.5,355.5 148.0,345 148.6,338.6 149.1,338.6 149.7,733.8 150.3,733.8 150.8,733.8 151.4,345.2 151.9,733.8 152.5,733.8 153.1,342.6 153.6,733.8 154.2,733.8 154.7,331.1 155.3,333.5 155.8,361.8 156.4,333.9 157.0,334 157.5,733.8 158.1,326.6 158.6,733.8 159.2,362.3 159.7,733.8 160.3,349.3 160.9,733.8 161.4,351.5 162.0,335.7 162.5,346.4 163.1,362.5 163.7,332.2 164.2,733.8 164.8,336.6 165.3,365.4 165.9,346.3 166.4,350.5 167.0,348.1 167.6,352.9 168.1,733.8 168.7,733.8 169.2,342.5 169.8,354.9 170.4,733.8 170.9,733.8 171.5,733.8 172.0,353.1 172.6,347.1 173.1,349 173.7,733.8 174.3,350.9 174.8,733.8 175.4,733.8 175.9,353.2 176.5,733.8 177.0,733.8 177.6,733.8 178.2,340 178.7,733.8 179.3,345.2 179.8,733.8 180.4,733.8 181.0,733.8 181.5,342.3 182.1,343.4 182.6,338.4 183.2,330.3 183.7,345.4 184.3,345.2 184.9,356.2 185.4,348.9 186.0,374.6 186.5,733.8 187.1,329.3 187.6,733.8 188.2,345.8 188.8,342.6 189.3,348 189.9,733.8 190.4,359.9 191.0,733.8 191.6,733.8 192.1,353.6 192.7,418.4 193.2,733.8 193.8,339.4 194.3,733.8 194.9,342.7 195.5,733.8 196.0,342.9 196.6,350.2 197.1,346.2 197.7,733.8 198.3,733.8 198.8,733.8 199.4,347.6 199.9,338.7 200.5,335.4 201.0,733.8 201.6,349.8 202.2,733.8 202.7,733.8 203.3,733.8 203.8,733.8 204.4,733.8 204.9,733.8 205.5,341.3 206.1,733.8 206.6,733.8 207.2,327.5 207.7,347.7 208.3,374.6 208.9,339.5 209.4,733.8 210.0,331.5 210.5,733.8 211.1,733.8 211.6,358.4 212.2,733.8 212.8,332.7 213.3,733.8 213.9,733.8 214.4,346.4 215.0,341 215.5,336 216.1,344.4 216.7,327.9 217.2,733.8 217.8,347.9 218.3,337.4 218.9,377.6 219.5,373.2 220.0,733.8 220.6,733.8 221.1,733.8 221.7,733.8 222.2,733.8 222.8,343.8 223.4,733.8 223.9,328.5 224.5,330.6 225.0,335 225.6,364.4 226.2,733.8 226.7,334 227.3,347.8 227.8,341 228.4,733.8 228.9,335.3 229.5,733.8 230.1,349.8 230.6,733.8 231.2,733.8 231.7,341.8 232.3,733.8 232.8,733.8 233.4,338.1 234.0,356.2 234.5,333.7 235.1,733.8 235.6,340.8 236.2,341.7 236.8,733.8 237.3,733.8 237.9,337 238.4,733.8 239.0,733.8 239.5,340.3 240.1,391.6 240.7,342.1 241.2,733.8 241.8,345.2 242.3,335 242.9,344.7 243.4,733.8 244.0,339.6 244.6,351.1 245.1,733.8 245.7,332.4 246.2,733.8 246.8,329.2 247.4,733.8 247.9,331.1 248.5,354.8 249.0,733.8 249.6,349.9 250.1,344.4 250.7,340.9 251.3,335 251.8,733.8 252.4,341.6 252.9,338.3 253.5,372.6 254.1,733.8 254.6,733.8 255.2,338.1 255.7,337.6 256.3,733.8 256.8,733.8 257.4,333.3 258.0,733.8 258.5,348 259.1,733.8 259.6,733.8 260.2,348.9 260.7,363.1 261.3,331.7 261.9,326.8 262.4,362.9 263.0,335.1 263.5,334.9 264.1,733.8 264.7,733.8 265.2,330.5 265.8,733.8 266.3,353.8 266.9,376.5 267.4,359 268.0,733.8 268.6,337.9 269.1,333 269.7,733.8 270.2,733.8 270.8,350.9 271.3,733.8 271.9,733.8 272.5,333.1 273.0,326.3 273.6,343.1 274.1,733.8 274.7,337.4 275.3,733.8 275.8,733.8 276.4,330.8 276.9,337.7 277.5,733.8 278.0,733.8 278.6,336.3 279.2,353.7 279.7,733.8 280.3,341.9 280.8,733.8 281.4,733.8 282.0,336.2 282.5,733.8 283.1,733.8 283.6,733.8 284.2,342 284.7,733.8 285.3,335.6 285.9,348.5 286.4,330.2 287.0,345.1 287.5,346.9 288.1,733.8 288.6,344.4 289.2,326.4 289.8,318.3 290.3,330.2 290.9,329.1 291.4,324 292.0,323.5 292.6,327.4 293.1,324.7 293.7,331.7 294.2,325.9 294.8,322.2 295.3,320.3 295.9,325.3 296.5,325.6 297.0,323.3 297.6,321.5 298.1,323.1 298.7,327.2 299.2,323.4 299.8,321.7 300.4,326.9 300.9,329.5 301.5,322.9 302.0,323.1 302.6,321.4 303.2,323.6 303.7,325.8 304.3,324.9 304.8,326.8 305.4,326.3 305.9,324.8 306.5,324.3 307.1,320 307.6,326.5 308.2,322.1 308.7,322 309.3,315.4 309.9,316.9 310.4,316.9 311.0,314 311.5,315.2 312.1,316 312.6,312 313.2,313.4 313.8,311.8 314.3,312.7 314.9,313.4 315.4,314.7 316.0,317.4 316.5,313.7 317.1,314.9 317.7,313.8 318.2,315.2 318.8,316.7 319.3,317.5 319.9,313.9 320.5,313.4 321.0,317.4 321.6,316.4 322.1,315.1 322.7,321.5 323.2,320.8 323.8,322.2 324.4,315 324.9,315.2 325.5,314.7 326.0,315.1 326.6,310.7 327.1,307.7 327.7,307.8 328.3,306.6 328.8,304.4 329.4,305 329.9,303 330.5,301.7 331.1,302 331.6,301.5 332.2,300.3 332.7,300.2 333.3,300 333.8,299.7 334.4,299.7 335.0,300.5 335.5,300.6 336.1,300.3 336.6,300.4 337.2,300.8 337.8,303.1 338.3,302.4 338.9,303.6 339.4,305.4 340.0,306.1 340.5,306.9 341.1,307.2 341.7,312.5 342.2,311.5 342.8,314.5 343.3,316.5 343.9,315.4 344.4,312.6 345.0,311.5 345.6,306.5 346.1,302.4 346.7,300.1 347.2,295.6 347.8,293.1 348.4,290.2 348.9,287.7 349.5,285.1 350.0,283.4 350.6,281.6 351.1,279.7 351.7,278.6 352.3,277.4 352.8,276.6 353.4,275.6 353.9,275.2 354.5,275 355.0,275 355.6,275.3 356.2,276.1 356.7,277.1 357.3,278.3 357.8,280.1 358.4,281.9 359.0,284.7 359.5,287.4 360.1,290.7 360.6,293.3 361.2,298.3 361.7,301.2 362.3,304.7 362.9,305.9 363.4,299.4 364.0,294.9 364.5,288.5 365.1,283.2 365.7,277.6 366.2,272.4 366.8,267.5 367.3,262.6 367.9,258.1 368.4,253.7 369.0,249.4 369.6,245.4 370.1,241.6 370.7,238 371.2,234.6 371.8,231.4 372.3,228.4 372.9,225.7 373.5,223.2 374.0,221 374.6,219 375.1,217.4 375.7,216 376.3,215 376.8,214.3 377.4,214.4 377.9,215.7 378.5,217.8 379.0,220.7 379.6,224.1 380.2,228.2 380.7,232.8 381.3,238 381.8,243.6 382.4,249.7 382.9,256.4 383.5,263.4 384.1,269.3 384.6,263.8 385.2,258.5 385.7,253.5 386.3,248.7 386.9,244 387.4,239.7 388.0,235.5 388.5,231.6 389.1,227.9 389.6,224.4 390.2,221.2 390.8,218.1 391.3,215.3 391.9,212.7 392.4,210.4 393.0,208.3 393.6,206.3 394.1,204.7 394.7,203.2 395.2,202 395.8,201 396.3,200.2 396.9,199.6 397.5,199.3 398.0,199.2 398.6,199.5 399.1,200.2 399.7,201.5 400.2,203.3 400.8,205.6 401.4,208.4 401.9,211.7 402.5,215.5 403.0,219.9 403.6,224.7 404.2,230 404.7,235.9 405.3,242.2 405.8,239.9 406.4,231.7 406.9,224.2 407.5,217.4 408.1,211.1 408.6,205.4 409.2,200.4 409.7,195.9 410.3,191.9 410.8,188.5 411.4,185.5 412.0,183.1 412.5,181.1 413.1,179.5 413.6,178.3 414.2,177.5 414.8,177 415.3,176.7 415.9,176.7 416.4,176.8 417.0,177 417.5,177.5 418.1,178.2 418.7,179.2 419.2,180.6 419.8,182.2 420.3,184.3 420.9,186.7 421.5,189.6 422.0,192.8 422.6,196.6 423.1,200.7 423.7,205.3 424.2,210.4 424.8,216 425.4,222.2 425.9,228.8 426.5,235.9 427.0,234 427.6,226.2 428.1,218.9 428.7,212.2 429.3,206.1 429.8,200.5 430.4,195.5 430.9,190.9 431.5,186.9 432.1,183.4 432.6,180.4 433.2,177.8 433.7,175.7 434.3,174 434.8,172.7 435.4,171.7 436.0,171.1 436.5,170.9 437.1,170.8 437.6,170.9 438.2,171.2 438.7,171.8 439.3,172.8 439.9,174 440.4,175.7 441.0,177.7 441.5,180.1 442.1,183 442.7,186.3 443.2,190 443.8,194.2 444.3,198.9 444.9,204.1 445.4,209.7 446.0,215.9 446.6,222.6 447.1,229.8 447.7,232.2 448.2,223.9 448.8,216.2 449.4,209.1 449.9,202.6 450.5,196.6 451.0,191.3 451.6,186.5 452.1,182.4 452.7,178.8 453.3,175.8 453.8,173.4 454.4,171.6 454.9,170.4 455.5,169.8 456.0,169.7 456.6,170.1 457.2,170.7 457.7,171.7 458.3,173.1 458.8,174.8 459.4,176.8 460.0,179.2 460.5,182 461.1,185 461.6,188.4 462.2,192.2 462.7,196.3 463.3,200.8 463.9,205.5 464.4,210.7 465.0,216.2 465.5,222 466.1,228.1 466.6,228.7 467.2,222.6 467.8,217.3 468.3,212.8 468.9,209 469.4,206 470.0,203.8 470.6,202.4 471.1,201.7 471.7,201.9 472.2,202.8 472.8,204.5 473.3,207.1 473.9,210.4 474.5,214.5 475.0,219.4 475.6,225.1 476.1,232.2 476.7,241.1 477.3,250 477.8,258.9 478.4,268 478.9,276.8 479.5,285.7 480.0,294.1 480.6,303.6 481.2,316.5 481.7,316.8 482.3,327.3 482.8,322.8 483.4,328.8 483.9,327.3 484.5,324.5 485.1,319.8 485.6,319.8 486.2,325.1 486.7,322.1 487.3,324.4 487.9,323.1 488.4,323 489.0,321.9 489.5,325.9 490.1,325 490.6,324.6 491.2,325.6 491.8,329.6 492.3,322.1 492.9,329.6 493.4,325.7 494.0,328.2 494.5,325.2 495.1,349 495.7,323.6 496.2,332.5 496.8,340.9 497.3,332 497.9,324.3 498.5,331.1 499.0,346.2 499.6,338.5 500.1,328.7 500.7,355.9 501.2,338.2 501.8,339.9 502.4,326.7 502.9,341.3 503.5,330.7 504.0,348.4 504.6,352.3 505.2,333.2 505.7,335.9 506.3,733.8 506.8,336.5 507.4,336.8 507.9,355.1 508.5,341.3 509.1,341.2 509.6,354.8 510.2,359.6 510.7,366.4 511.3,351.6 511.8,733.8 512.4,348.1 513.0,733.8 513.5,347 514.1,350.5 514.6,733.8 515.2,338.6 515.8,331.7 516.3,335.3 516.9,733.8 517.4,335.9 518.0,347.3 518.5,353.5 519.1,733.8 519.7,353 520.2,335.7 520.8,343.6 521.3,385.7 521.9,733.8 522.4,399.5 523.0,343.6 523.6,333.1 524.1,733.8 524.7,355.9 525.2,733.8 525.8,733.8 526.4,347.2 526.9,344.9 527.5,733.8 528.0,733.8 528.6,338.2 529.1,349.3 529.7,345.8 530.3,733.8 530.8,733.8 531.4,347.1 531.9,733.8 532.5,733.8 533.1,359.3 533.6,341.4 534.2,733.8 534.7,339.9 535.3,343.9 535.8,733.8 536.4,359.9 537.0,362.6 537.5,345 538.1,344.6 538.6,733.8 539.2,733.8 539.7,340.4 540.3,356.5 540.9,348.8 541.4,350.5 542.0,336.3 542.5,733.8 543.1,340 543.7,733.8 544.2,344.1 544.8,337.8 545.3,733.8 545.9,349.4 546.4,733.8 547.0,733.8 547.6,360 548.1,733.8 548.7,733.8 549.2,345.2 549.8,342.7 550.3,733.8 550.9,733.8 551.5,331.7 552.0,340.1 552.6,350.5 553.1,733.8 553.7,733.8 554.3,353.4 554.8,733.8 555.4,336 555.9,356.7 556.5,349.9 557.0,733.8 557.6,733.8 558.2,733.8 558.7,352.6 559.3,733.8 559.8,733.8 560.4,351.7 561.0,354.1 561.5,336.9 562.1,390 562.6,733.8 563.2,363.7 563.7,337.1 564.3,733.8 564.9,360.5 565.4,733.8 566.0,349.8 566.5,353.3 567.1,733.8 567.6,733.8 568.2,341.8 568.8,340.3 569.3,342.1 569.9,342.8 570.4,733.8 571.0,733.8 571.6,342 572.1,733.8 572.7,367.1 573.2,733.8 573.8,733.8 574.3,733.8 574.9,733.8 575.5,346.7 576.0,733.8 576.6,733.8 577.1,733.8 577.7,733.8 578.2,337.4 578.8,733.8 579.4,355 579.9,733.8 580.5,733.8 581.0,733.8 581.6,733.8 582.2,733.8 582.7,356.8 583.3,336.4 583.8,374.9 584.4,375.9 584.9,733.8 585.5,330.8 586.1,336 586.6,347 587.2,344.8 587.7,733.8 588.3,378.1 588.9,354.6 589.4,357.7 590.0,733.8 590.5,733.8 591.1,347.7 591.6,351.9 592.2,733.8 592.8,358.7 593.3,338.7 593.9,733.8 594.4,353.8 595.0,733.8 595.5,343.2 596.1,733.8 596.7,733.8 597.2,733.8 597.8,331.6 598.3,733.8 598.9,733.8 599.5,348.7 600.0,354.1 600.6,335.7 601.1,733.8 601.7,733.8 602.2,733.8 602.8,350.4 603.4,350.8 603.9,340.4 604.5,733.8 605.0,733.8 605.6,374.5 606.1,343.1 606.7,348.4 607.3,733.8 607.8,733.8 608.4,342.6 608.9,341.8 609.5,330 610.1,383.3 610.6,336 611.2,733.8 611.7,733.8 612.3,733.8 612.8,733.8 613.4,733.8 614.0,733.8 614.5,366.7 615.1,733.8 615.6,345.4 616.2,369.1 616.8,363.2 617.3,337 617.9,351.8 618.4,356.3 619.0,364.2 619.5,359.9 620.1,346.8 620.7,733.8 621.2,339.8 621.8,336.3 622.3,339.7 622.9,733.8 623.4,733.8 624.0,733.8 624.6,356.4 625.1,343.2 625.7,384.4 626.2,733.8 626.8,336.7 627.4,733.8 627.9,340.6 628.5,342.3 629.0,733.8 629.6,352.7 630.1,733.8 630.7,733.8 631.3,733.8 631.8,733.8 632.4,349.6 632.9,733.8 633.5,352.8 634.0,733.8 634.6,733.8 635.2,733.8 635.7,733.8 636.3,733.8 636.8,349.1 637.4,356.6 638.0,733.8 638.5,370.7 639.1,345.4 639.6,334.6 640.2,733.8 640.7,346.1 641.3,332.9 641.9,359.7 642.4,337.1 643.0,733.8 643.5,337.2 644.1,363.7 644.7,733.8 645.2,343.8 645.8,340.7 646.3,339.2 646.9,339.3 647.4,364.9 648.0,733.8 648.6,733.8 649.1,365.2" stroke="#7f7f7f" stroke-opacity="1.0"/>
</g>
<rect x="90.5" y="52.5" width="558.0" height="326.0" fill="none" stroke="#cccccc" stroke-width="1.1"/>
<rect x="97.4" y="59.7" width="86.9" height="152.39999999999998" rx="2.8" ry="2.8" fill="#ffffff" fill-opacity="0.8" stroke="#cccccc" stroke-opacity="0.8" stroke-width="1.1"/>
<line x1="102.3" x2="132.5" y1="70.85" y2="70.85" stroke="#bcbd22" stroke-opacity="0.86" stroke-width="2.08"/>
<text x="143.2" y="75.80" font-size="13.89">Ch. 1</text>
<line x1="102.3" x2="132.5" y1="92.03" y2="92.03" stroke="#ff7f0e" stroke-opacity="0.86" stroke-width="2.08"/>
<text x="143.2" y="96.98" font-size="13.89">Ch. 2</text>
<line x1="102.3" x2="132.5" y1="113.21" y2="113.21" stroke="#d62728" stroke-opacity="0.86" stroke-width="2.08"/>
<text x="143.2" y="118.16" font-size="13.89">Ch. 3</text>
<line x1="102.3" x2="132.5" y1="134.39" y2="134.39" stroke="#9467bd" stroke-opacity="0.86" stroke-width="2.08"/>
<text x="143.2" y="139.34" font-size="13.89">Ch. 4</text>
<line x1="102.3" x2="132.5" y1="155.57" y2="155.57" stroke="#1f77b4" stroke-opacity="0.86" stroke-width="2.08"/>
<text x="143.2" y="160.52" font-size="13.89">Ch. 5</text>
<line x1="102.3" x2="132.5" y1="176.75" y2="176.75" stroke="#17becf" stroke-opacity="0.86" stroke-width="2.08"/>
<text x="143.2" y="181.70" font-size="13.89">Ch. 6</text>
<line x1="102.3" x2="132.5" y1="197.93" y2="197.93" stroke="#7f7f7f" stroke-opacity="0.86" stroke-width="2.08"/>
<text x="143.2" y="202.88" font-size="13.89">Ch. 7</text>
<text x="90.00" y="391.5" font-size="13.89" text-anchor="middle">840</text>
<text x="164.40" y="391.5" font-size="13.89" text-anchor="middle">842</text>
<text x="238.80" y="391.5" font-size="13.89" text-anchor="middle">844</text>
<text x="313.20" y="391.5" font-size="13.89" text-anchor="middle">846</text>
<text x="387.60" y="391.5" font-size="13.89" text-anchor="middle">848</text>
<text x="462.00" y="391.5" font-size="13.89" text-anchor="middle">850</text>
<text x="536.40" y="391.5" font-size="13.89" text-anchor="middle">852</text>
<text x="610.80" y="391.5" font-size="13.89" text-anchor="middle">854</text>
<text x="86.1" y="57.24" font-size="13.89" text-anchor="end">20</text>
<text x="86.1" y="116.54" font-size="13.89" text-anchor="end">0</text>
<text x="86.1" y="175.84" font-size="13.89" text-anchor="end">−20</text>
<text x="86.1" y="235.15" font-size="13.89" text-anchor="end">−40</text>
<text x="86.1" y="294.45" font-size="13.89" text-anchor="end">−60</text>
<text x="86.1" y="353.75" font-size="13.89" text-anchor="end">−80</text>
<text x="369.7" y="45.8" font-size="16.67" text-anchor="middle" letter-spacing="0.6">D4787 V21111 OptoBoard QA</text>
<text x="369" y="411.7" font-size="16.67" text-anchor="middle" letter-spacing="0.42">Wavelength [nm]</text>
<text transform="translate(54.3,214.9) rotate(-90)" font-size="16.67" text-anchor="middle" letter-spacing="0.27">Optical Power [dB]</text>
</svg></body></html>
